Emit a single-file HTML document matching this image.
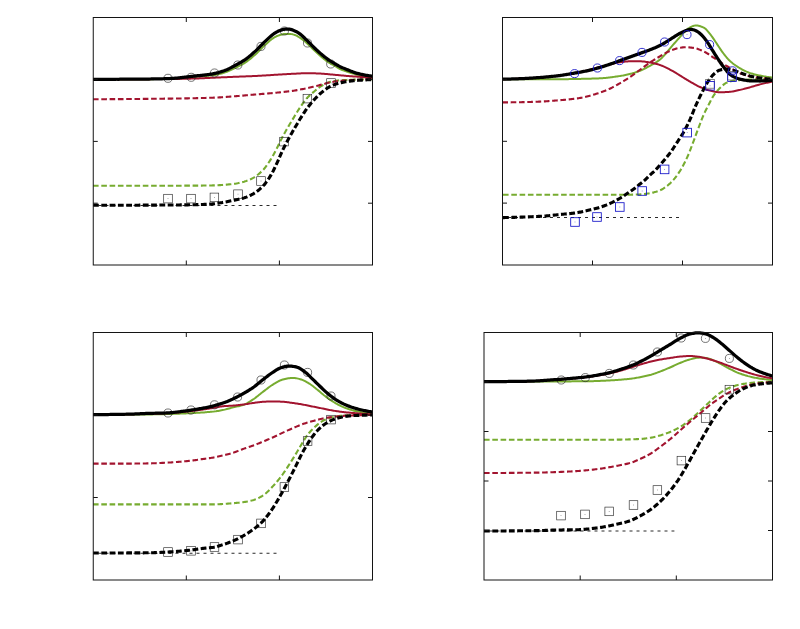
<!DOCTYPE html>
<html><head><meta charset="utf-8"><title>chart</title><style>html,body{margin:0;padding:0;background:#fff;font-family:"Liberation Sans",sans-serif}svg{display:block}</style></head><body>
<svg width="800" height="629" viewBox="0 0 800 629">
<rect width="800" height="629" fill="#fff"/>
<clipPath id="c1"><rect x="93.25" y="14.5" width="279.25" height="250.5"/></clipPath>
<g clip-path="url(#c1)" fill="none" stroke-linejoin="round">
<path d="M93.00,205.50 L277.00,205.50" stroke="#2a2a2a" stroke-width="1.0" stroke-dasharray="3 4" stroke-dashoffset="1.5"/>
<path d="M93.00,185.70 L94.08,185.70 L95.16,185.70 L96.24,185.70 L97.32,185.70 L98.40,185.70 L99.47,185.70 L100.55,185.70 L101.63,185.70 L102.71,185.70 L103.79,185.70 L104.87,185.70 L105.95,185.70 L107.03,185.70 L108.11,185.70 L109.19,185.70 L110.27,185.70 L111.35,185.70 L112.42,185.70 L113.50,185.70 L114.58,185.70 L115.66,185.70 L116.74,185.70 L117.82,185.70 L118.90,185.70 L119.98,185.70 L121.06,185.70 L122.14,185.70 L123.22,185.70 L124.30,185.70 L125.37,185.70 L126.45,185.70 L127.53,185.70 L128.61,185.70 L129.69,185.70 L130.77,185.70 L131.85,185.70 L132.93,185.70 L134.01,185.70 L135.09,185.70 L136.17,185.70 L137.25,185.70 L138.32,185.70 L139.40,185.70 L140.48,185.70 L141.56,185.70 L142.64,185.70 L143.72,185.70 L144.80,185.70 L145.88,185.70 L146.96,185.70 L148.04,185.70 L149.12,185.70 L150.19,185.70 L151.27,185.70 L152.35,185.70 L153.43,185.70 L154.51,185.70 L155.59,185.70 L156.67,185.70 L157.75,185.70 L158.83,185.70 L159.91,185.70 L160.99,185.70 L162.07,185.70 L163.14,185.70 L164.22,185.70 L165.30,185.70 L166.38,185.70 L167.46,185.70 L168.54,185.70 L169.62,185.70 L170.70,185.70 L171.78,185.70 L172.86,185.70 L173.94,185.70 L175.02,185.70 L176.09,185.70 L177.17,185.69 L178.25,185.69 L179.33,185.69 L180.41,185.69 L181.49,185.68 L182.57,185.68 L183.65,185.68 L184.73,185.67 L185.81,185.67 L186.89,185.67 L187.97,185.66 L189.04,185.66 L190.12,185.65 L191.20,185.65 L192.28,185.64 L193.36,185.64 L194.44,185.63 L195.52,185.63 L196.60,185.62 L197.68,185.61 L198.76,185.61 L199.84,185.60 L200.92,185.59 L201.99,185.59 L203.07,185.57 L204.15,185.56 L205.23,185.55 L206.31,185.53 L207.39,185.52 L208.47,185.50 L209.55,185.48 L210.63,185.45 L211.71,185.43 L212.79,185.41 L213.86,185.38 L214.94,185.34 L216.02,185.30 L217.10,185.26 L218.18,185.21 L219.26,185.15 L220.34,185.09 L221.42,185.02 L222.50,184.95 L223.58,184.87 L224.66,184.79 L225.74,184.70 L226.81,184.61 L227.89,184.51 L228.97,184.41 L230.05,184.31 L231.13,184.20 L232.21,184.09 L233.29,183.97 L234.37,183.83 L235.45,183.67 L236.53,183.48 L237.61,183.28 L238.69,183.05 L239.76,182.81 L240.84,182.55 L241.92,182.28 L243.00,182.00 L244.08,181.70 L245.16,181.36 L246.24,181.00 L247.32,180.60 L248.40,180.17 L249.48,179.71 L250.56,179.22 L251.64,178.70 L252.71,178.15 L253.79,177.56 L254.87,176.89 L255.95,176.17 L257.03,175.37 L258.11,174.52 L259.19,173.61 L260.27,172.65 L261.35,171.64 L262.43,170.58 L263.51,169.47 L264.58,168.23 L265.66,166.88 L266.74,165.42 L267.82,163.88 L268.90,162.27 L269.98,160.60 L271.06,158.91 L272.14,157.11 L273.22,155.20 L274.30,153.19 L275.38,151.13 L276.46,149.05 L277.53,146.96 L278.61,144.80 L279.69,142.60 L280.77,140.38 L281.85,138.21 L282.93,136.13 L284.01,134.15 L285.09,132.22 L286.17,130.34 L287.25,128.49 L288.33,126.65 L289.41,124.81 L290.48,122.98 L291.56,121.17 L292.64,119.37 L293.72,117.59 L294.80,115.82 L295.88,114.07 L296.96,112.30 L298.04,110.56 L299.12,108.84 L300.20,107.19 L301.28,105.60 L302.36,104.04 L303.43,102.51 L304.51,101.04 L305.59,99.64 L306.67,98.36 L307.75,97.21 L308.83,96.14 L309.91,95.15 L310.99,94.20 L312.07,93.28 L313.15,92.38 L314.23,91.46 L315.31,90.55 L316.38,89.64 L317.46,88.77 L318.54,87.93 L319.62,87.14 L320.70,86.41 L321.78,85.75 L322.86,85.14 L323.94,84.55 L325.02,83.97 L326.10,83.44 L327.18,82.94 L328.25,82.50 L329.33,82.13 L330.41,81.82 L331.49,81.57 L332.57,81.34 L333.65,81.13 L334.73,80.94 L335.81,80.77 L336.89,80.62 L337.97,80.50 L339.05,80.40 L340.13,80.31 L341.20,80.24 L342.28,80.17 L343.36,80.11 L344.44,80.06 L345.52,80.01 L346.60,79.96 L347.68,79.91 L348.76,79.87 L349.84,79.82 L350.92,79.78 L352.00,79.74 L353.08,79.71 L354.15,79.67 L355.23,79.64 L356.31,79.61 L357.39,79.58 L358.47,79.56 L359.55,79.53 L360.63,79.50 L361.71,79.48 L362.79,79.46 L363.87,79.43 L364.95,79.41 L366.03,79.39 L367.10,79.37 L368.18,79.35 L369.26,79.34 L370.34,79.32 L371.42,79.31 L372.50,79.30" stroke="#77ac30" stroke-width="2.1" stroke-dasharray="5.6 2.7"/>
<path d="M93.00,79.30 L94.08,79.30 L95.16,79.30 L96.24,79.30 L97.32,79.30 L98.40,79.30 L99.47,79.30 L100.55,79.30 L101.63,79.30 L102.71,79.30 L103.79,79.30 L104.87,79.30 L105.95,79.29 L107.03,79.29 L108.11,79.29 L109.19,79.29 L110.27,79.29 L111.35,79.29 L112.42,79.29 L113.50,79.28 L114.58,79.28 L115.66,79.28 L116.74,79.28 L117.82,79.28 L118.90,79.27 L119.98,79.27 L121.06,79.27 L122.14,79.27 L123.22,79.26 L124.30,79.26 L125.37,79.26 L126.45,79.26 L127.53,79.25 L128.61,79.25 L129.69,79.25 L130.77,79.24 L131.85,79.24 L132.93,79.23 L134.01,79.23 L135.09,79.23 L136.17,79.22 L137.25,79.22 L138.32,79.21 L139.40,79.21 L140.48,79.20 L141.56,79.20 L142.64,79.19 L143.72,79.19 L144.80,79.18 L145.88,79.18 L146.96,79.17 L148.04,79.16 L149.12,79.16 L150.19,79.15 L151.27,79.14 L152.35,79.14 L153.43,79.13 L154.51,79.12 L155.59,79.12 L156.67,79.11 L157.75,79.10 L158.83,79.09 L159.91,79.09 L160.99,79.08 L162.07,79.07 L163.14,79.06 L164.22,79.05 L165.30,79.04 L166.38,79.03 L167.46,79.02 L168.54,79.01 L169.62,79.00 L170.70,78.99 L171.78,78.96 L172.86,78.91 L173.94,78.84 L175.02,78.77 L176.09,78.68 L177.17,78.58 L178.25,78.48 L179.33,78.37 L180.41,78.26 L181.49,78.14 L182.57,78.03 L183.65,77.93 L184.73,77.82 L185.81,77.73 L186.89,77.62 L187.97,77.51 L189.04,77.40 L190.12,77.29 L191.20,77.17 L192.28,77.06 L193.36,76.95 L194.44,76.85 L195.52,76.75 L196.60,76.66 L197.68,76.58 L198.76,76.50 L199.84,76.41 L200.92,76.33 L201.99,76.25 L203.07,76.17 L204.15,76.08 L205.23,75.98 L206.31,75.88 L207.39,75.79 L208.47,75.69 L209.55,75.59 L210.63,75.48 L211.71,75.36 L212.79,75.23 L213.86,75.09 L214.94,74.93 L216.02,74.75 L217.10,74.54 L218.18,74.30 L219.26,74.05 L220.34,73.77 L221.42,73.48 L222.50,73.17 L223.58,72.84 L224.66,72.51 L225.74,72.16 L226.81,71.76 L227.89,71.33 L228.97,70.87 L230.05,70.38 L231.13,69.87 L232.21,69.36 L233.29,68.83 L234.37,68.30 L235.45,67.78 L236.53,67.27 L237.61,66.74 L238.69,66.21 L239.76,65.66 L240.84,65.10 L241.92,64.52 L243.00,63.91 L244.08,63.27 L245.16,62.60 L246.24,61.88 L247.32,61.12 L248.40,60.31 L249.48,59.47 L250.56,58.60 L251.64,57.70 L252.71,56.78 L253.79,55.85 L254.87,54.91 L255.95,53.94 L257.03,52.91 L258.11,51.84 L259.19,50.74 L260.27,49.63 L261.35,48.52 L262.43,47.43 L263.51,46.38 L264.58,45.37 L265.66,44.41 L266.74,43.44 L267.82,42.46 L268.90,41.50 L269.98,40.56 L271.06,39.66 L272.14,38.82 L273.22,38.06 L274.30,37.38 L275.38,36.81 L276.46,36.29 L277.53,35.83 L278.61,35.43 L279.69,35.08 L280.77,34.79 L281.85,34.49 L282.93,34.24 L284.01,34.06 L285.09,34.00 L286.17,34.00 L287.25,34.00 L288.33,34.00 L289.41,34.00 L290.48,34.01 L291.56,34.13 L292.64,34.35 L293.72,34.63 L294.80,34.94 L295.88,35.32 L296.96,35.87 L298.04,36.52 L299.12,37.23 L300.20,37.93 L301.28,38.65 L302.36,39.42 L303.43,40.24 L304.51,41.10 L305.59,42.00 L306.67,42.98 L307.75,44.02 L308.83,45.07 L309.91,46.11 L310.99,47.15 L312.07,48.19 L313.15,49.23 L314.23,50.27 L315.31,51.29 L316.38,52.30 L317.46,53.30 L318.54,54.30 L319.62,55.27 L320.70,56.22 L321.78,57.16 L322.86,58.08 L323.94,58.97 L325.02,59.81 L326.10,60.61 L327.18,61.36 L328.25,62.09 L329.33,62.79 L330.41,63.45 L331.49,64.07 L332.57,64.66 L333.65,65.24 L334.73,65.84 L335.81,66.49 L336.89,67.18 L337.97,67.86 L339.05,68.51 L340.13,69.06 L341.20,69.54 L342.28,69.99 L343.36,70.41 L344.44,70.80 L345.52,71.18 L346.60,71.54 L347.68,71.90 L348.76,72.25 L349.84,72.59 L350.92,72.94 L352.00,73.27 L353.08,73.58 L354.15,73.88 L355.23,74.16 L356.31,74.42 L357.39,74.65 L358.47,74.86 L359.55,75.06 L360.63,75.26 L361.71,75.44 L362.79,75.61 L363.87,75.77 L364.95,75.92 L366.03,76.07 L367.10,76.21 L368.18,76.34 L369.26,76.47 L370.34,76.59 L371.42,76.70 L372.50,76.80" stroke="#77ac30" stroke-width="2.0"/>
<path d="M93.00,99.20 L94.08,99.20 L95.16,99.20 L96.24,99.20 L97.32,99.20 L98.40,99.20 L99.47,99.19 L100.55,99.19 L101.63,99.19 L102.71,99.19 L103.79,99.18 L104.87,99.18 L105.95,99.18 L107.03,99.17 L108.11,99.17 L109.19,99.16 L110.27,99.16 L111.35,99.15 L112.42,99.15 L113.50,99.14 L114.58,99.14 L115.66,99.13 L116.74,99.12 L117.82,99.12 L118.90,99.11 L119.98,99.10 L121.06,99.10 L122.14,99.09 L123.22,99.08 L124.30,99.07 L125.37,99.06 L126.45,99.06 L127.53,99.05 L128.61,99.04 L129.69,99.03 L130.77,99.02 L131.85,99.01 L132.93,99.00 L134.01,98.99 L135.09,98.98 L136.17,98.97 L137.25,98.96 L138.32,98.95 L139.40,98.94 L140.48,98.93 L141.56,98.92 L142.64,98.91 L143.72,98.90 L144.80,98.89 L145.88,98.87 L146.96,98.86 L148.04,98.85 L149.12,98.84 L150.19,98.83 L151.27,98.82 L152.35,98.80 L153.43,98.79 L154.51,98.78 L155.59,98.77 L156.67,98.76 L157.75,98.74 L158.83,98.73 L159.91,98.72 L160.99,98.71 L162.07,98.69 L163.14,98.68 L164.22,98.67 L165.30,98.66 L166.38,98.64 L167.46,98.63 L168.54,98.62 L169.62,98.60 L170.70,98.59 L171.78,98.58 L172.86,98.57 L173.94,98.55 L175.02,98.54 L176.09,98.52 L177.17,98.51 L178.25,98.49 L179.33,98.48 L180.41,98.46 L181.49,98.44 L182.57,98.43 L183.65,98.41 L184.73,98.39 L185.81,98.37 L186.89,98.35 L187.97,98.34 L189.04,98.32 L190.12,98.29 L191.20,98.27 L192.28,98.25 L193.36,98.23 L194.44,98.21 L195.52,98.18 L196.60,98.16 L197.68,98.13 L198.76,98.11 L199.84,98.08 L200.92,98.06 L201.99,98.03 L203.07,98.00 L204.15,97.97 L205.23,97.94 L206.31,97.91 L207.39,97.88 L208.47,97.85 L209.55,97.81 L210.63,97.78 L211.71,97.74 L212.79,97.71 L213.86,97.67 L214.94,97.62 L216.02,97.57 L217.10,97.52 L218.18,97.46 L219.26,97.40 L220.34,97.33 L221.42,97.26 L222.50,97.18 L223.58,97.11 L224.66,97.03 L225.74,96.95 L226.81,96.87 L227.89,96.79 L228.97,96.70 L230.05,96.62 L231.13,96.54 L232.21,96.46 L233.29,96.38 L234.37,96.30 L235.45,96.21 L236.53,96.13 L237.61,96.04 L238.69,95.95 L239.76,95.86 L240.84,95.77 L241.92,95.67 L243.00,95.58 L244.08,95.48 L245.16,95.39 L246.24,95.29 L247.32,95.20 L248.40,95.10 L249.48,95.01 L250.56,94.91 L251.64,94.82 L252.71,94.72 L253.79,94.63 L254.87,94.54 L255.95,94.45 L257.03,94.36 L258.11,94.27 L259.19,94.18 L260.27,94.10 L261.35,94.01 L262.43,93.92 L263.51,93.83 L264.58,93.74 L265.66,93.65 L266.74,93.55 L267.82,93.46 L268.90,93.37 L269.98,93.27 L271.06,93.18 L272.14,93.08 L273.22,92.98 L274.30,92.88 L275.38,92.78 L276.46,92.67 L277.53,92.57 L278.61,92.46 L279.69,92.35 L280.77,92.24 L281.85,92.12 L282.93,92.01 L284.01,91.89 L285.09,91.77 L286.17,91.65 L287.25,91.53 L288.33,91.41 L289.41,91.28 L290.48,91.14 L291.56,91.00 L292.64,90.85 L293.72,90.69 L294.80,90.52 L295.88,90.34 L296.96,90.16 L298.04,89.96 L299.12,89.76 L300.20,89.55 L301.28,89.34 L302.36,89.13 L303.43,88.91 L304.51,88.69 L305.59,88.47 L306.67,88.24 L307.75,88.00 L308.83,87.76 L309.91,87.52 L310.99,87.27 L312.07,87.02 L313.15,86.77 L314.23,86.51 L315.31,86.24 L316.38,85.97 L317.46,85.69 L318.54,85.42 L319.62,85.14 L320.70,84.86 L321.78,84.58 L322.86,84.29 L323.94,83.99 L325.02,83.69 L326.10,83.38 L327.18,83.08 L328.25,82.80 L329.33,82.55 L330.41,82.32 L331.49,82.11 L332.57,81.92 L333.65,81.73 L334.73,81.56 L335.81,81.40 L336.89,81.25 L337.97,81.11 L339.05,81.00 L340.13,80.89 L341.20,80.79 L342.28,80.70 L343.36,80.62 L344.44,80.54 L345.52,80.46 L346.60,80.39 L347.68,80.32 L348.76,80.25 L349.84,80.18 L350.92,80.11 L352.00,80.04 L353.08,79.98 L354.15,79.92 L355.23,79.87 L356.31,79.82 L357.39,79.77 L358.47,79.73 L359.55,79.68 L360.63,79.64 L361.71,79.60 L362.79,79.56 L363.87,79.52 L364.95,79.49 L366.03,79.45 L367.10,79.42 L368.18,79.39 L369.26,79.36 L370.34,79.34 L371.42,79.32 L372.50,79.30" stroke="#a2142f" stroke-width="2.1" stroke-dasharray="5.6 2.7"/>
<path d="M93.00,79.30 L94.08,79.30 L95.16,79.30 L96.24,79.30 L97.32,79.30 L98.40,79.30 L99.47,79.30 L100.55,79.30 L101.63,79.30 L102.71,79.29 L103.79,79.29 L104.87,79.29 L105.95,79.29 L107.03,79.29 L108.11,79.29 L109.19,79.29 L110.27,79.28 L111.35,79.28 L112.42,79.28 L113.50,79.28 L114.58,79.27 L115.66,79.27 L116.74,79.27 L117.82,79.27 L118.90,79.26 L119.98,79.26 L121.06,79.26 L122.14,79.25 L123.22,79.25 L124.30,79.25 L125.37,79.24 L126.45,79.24 L127.53,79.24 L128.61,79.23 L129.69,79.23 L130.77,79.22 L131.85,79.22 L132.93,79.22 L134.01,79.21 L135.09,79.21 L136.17,79.20 L137.25,79.20 L138.32,79.19 L139.40,79.19 L140.48,79.18 L141.56,79.18 L142.64,79.17 L143.72,79.16 L144.80,79.16 L145.88,79.15 L146.96,79.15 L148.04,79.14 L149.12,79.14 L150.19,79.13 L151.27,79.12 L152.35,79.12 L153.43,79.11 L154.51,79.10 L155.59,79.10 L156.67,79.09 L157.75,79.08 L158.83,79.08 L159.91,79.07 L160.99,79.06 L162.07,79.06 L163.14,79.05 L164.22,79.04 L165.30,79.03 L166.38,79.03 L167.46,79.02 L168.54,79.01 L169.62,79.00 L170.70,78.99 L171.78,78.98 L172.86,78.97 L173.94,78.96 L175.02,78.95 L176.09,78.93 L177.17,78.91 L178.25,78.89 L179.33,78.88 L180.41,78.85 L181.49,78.83 L182.57,78.81 L183.65,78.79 L184.73,78.76 L185.81,78.74 L186.89,78.71 L187.97,78.68 L189.04,78.66 L190.12,78.63 L191.20,78.60 L192.28,78.57 L193.36,78.54 L194.44,78.52 L195.52,78.49 L196.60,78.45 L197.68,78.42 L198.76,78.38 L199.84,78.34 L200.92,78.30 L201.99,78.26 L203.07,78.22 L204.15,78.17 L205.23,78.12 L206.31,78.08 L207.39,78.03 L208.47,77.98 L209.55,77.93 L210.63,77.87 L211.71,77.82 L212.79,77.77 L213.86,77.72 L214.94,77.66 L216.02,77.61 L217.10,77.56 L218.18,77.51 L219.26,77.46 L220.34,77.41 L221.42,77.36 L222.50,77.31 L223.58,77.26 L224.66,77.21 L225.74,77.17 L226.81,77.13 L227.89,77.08 L228.97,77.04 L230.05,76.99 L231.13,76.95 L232.21,76.91 L233.29,76.86 L234.37,76.82 L235.45,76.78 L236.53,76.74 L237.61,76.69 L238.69,76.65 L239.76,76.61 L240.84,76.57 L241.92,76.52 L243.00,76.48 L244.08,76.44 L245.16,76.39 L246.24,76.35 L247.32,76.31 L248.40,76.27 L249.48,76.23 L250.56,76.19 L251.64,76.14 L252.71,76.10 L253.79,76.05 L254.87,76.01 L255.95,75.95 L257.03,75.90 L258.11,75.85 L259.19,75.79 L260.27,75.73 L261.35,75.67 L262.43,75.60 L263.51,75.54 L264.58,75.47 L265.66,75.40 L266.74,75.34 L267.82,75.27 L268.90,75.20 L269.98,75.13 L271.06,75.06 L272.14,74.99 L273.22,74.92 L274.30,74.85 L275.38,74.78 L276.46,74.71 L277.53,74.64 L278.61,74.57 L279.69,74.51 L280.77,74.44 L281.85,74.38 L282.93,74.31 L284.01,74.25 L285.09,74.20 L286.17,74.14 L287.25,74.08 L288.33,74.03 L289.41,73.97 L290.48,73.92 L291.56,73.87 L292.64,73.82 L293.72,73.76 L294.80,73.71 L295.88,73.65 L296.96,73.59 L298.04,73.52 L299.12,73.44 L300.20,73.38 L301.28,73.31 L302.36,73.26 L303.43,73.22 L304.51,73.20 L305.59,73.20 L306.67,73.21 L307.75,73.22 L308.83,73.23 L309.91,73.24 L310.99,73.26 L312.07,73.28 L313.15,73.30 L314.23,73.33 L315.31,73.36 L316.38,73.40 L317.46,73.45 L318.54,73.50 L319.62,73.56 L320.70,73.62 L321.78,73.69 L322.86,73.76 L323.94,73.83 L325.02,73.90 L326.10,73.98 L327.18,74.08 L328.25,74.18 L329.33,74.29 L330.41,74.39 L331.49,74.49 L332.57,74.59 L333.65,74.69 L334.73,74.79 L335.81,74.90 L336.89,75.00 L337.97,75.10 L339.05,75.20 L340.13,75.30 L341.20,75.40 L342.28,75.50 L343.36,75.60 L344.44,75.70 L345.52,75.79 L346.60,75.88 L347.68,75.97 L348.76,76.06 L349.84,76.15 L350.92,76.23 L352.00,76.31 L353.08,76.39 L354.15,76.47 L355.23,76.55 L356.31,76.62 L357.39,76.70 L358.47,76.78 L359.55,76.85 L360.63,76.93 L361.71,77.01 L362.79,77.09 L363.87,77.17 L364.95,77.26 L366.03,77.34 L367.10,77.43 L368.18,77.52 L369.26,77.62 L370.34,77.71 L371.42,77.80 L372.50,77.90" stroke="#a2142f" stroke-width="2.0"/>
</g>
<g fill="none" stroke="#2a2a2a" stroke-width="0.65">
<circle cx="168" cy="78.3" r="4.05"/>
<circle cx="191.2" cy="77.3" r="4.05"/>
<circle cx="214.5" cy="73" r="4.05"/>
<circle cx="237.8" cy="65" r="4.05"/>
<circle cx="261" cy="46.4" r="4.05"/>
<circle cx="284.4" cy="31" r="4.05"/>
<circle cx="307.5" cy="43" r="4.05"/>
<circle cx="330.7" cy="64" r="4.05"/>
<rect x="163.70" y="194.30" width="8.6" height="8.6"/>
<rect x="186.70" y="194.30" width="8.6" height="8.6"/>
<rect x="210.10" y="193.10" width="8.6" height="8.6"/>
<rect x="233.70" y="189.90" width="8.6" height="8.6"/>
<rect x="256.70" y="176.70" width="8.6" height="8.6"/>
<rect x="279.70" y="137.30" width="8.6" height="8.6"/>
<rect x="303.10" y="94.30" width="8.6" height="8.6"/>
<rect x="326.70" y="78.70" width="8.6" height="8.6"/>
</g>
<g fill="#2a2a2a" stroke="none" opacity="0.6">
<rect x="167.60" y="198.20" width="0.8" height="0.8"/>
<rect x="190.60" y="198.20" width="0.8" height="0.8"/>
<rect x="214.00" y="197.00" width="0.8" height="0.8"/>
<rect x="237.60" y="193.80" width="0.8" height="0.8"/>
<rect x="260.60" y="180.60" width="0.8" height="0.8"/>
<rect x="283.60" y="141.20" width="0.8" height="0.8"/>
<rect x="307.00" y="98.20" width="0.8" height="0.8"/>
<rect x="330.60" y="82.60" width="0.8" height="0.8"/>
<rect x="167.60" y="77.90" width="0.8" height="0.8"/>
<rect x="190.80" y="76.90" width="0.8" height="0.8"/>
<rect x="214.10" y="72.60" width="0.8" height="0.8"/>
<rect x="237.40" y="64.60" width="0.8" height="0.8"/>
<rect x="260.60" y="46.00" width="0.8" height="0.8"/>
<rect x="284.00" y="30.60" width="0.8" height="0.8"/>
<rect x="307.10" y="42.60" width="0.8" height="0.8"/>
<rect x="330.30" y="63.60" width="0.8" height="0.8"/>
</g>
<g clip-path="url(#c1)" fill="none" stroke-linejoin="round">
<path d="M93.00,205.30 L94.08,205.30 L95.16,205.30 L96.24,205.30 L97.32,205.30 L98.40,205.30 L99.47,205.30 L100.55,205.30 L101.63,205.29 L102.71,205.29 L103.79,205.29 L104.87,205.29 L105.95,205.29 L107.03,205.29 L108.11,205.28 L109.19,205.28 L110.27,205.28 L111.35,205.28 L112.42,205.27 L113.50,205.27 L114.58,205.27 L115.66,205.27 L116.74,205.26 L117.82,205.26 L118.90,205.26 L119.98,205.25 L121.06,205.25 L122.14,205.25 L123.22,205.24 L124.30,205.24 L125.37,205.23 L126.45,205.23 L127.53,205.23 L128.61,205.22 L129.69,205.22 L130.77,205.21 L131.85,205.21 L132.93,205.20 L134.01,205.20 L135.09,205.19 L136.17,205.19 L137.25,205.18 L138.32,205.18 L139.40,205.17 L140.48,205.17 L141.56,205.16 L142.64,205.16 L143.72,205.15 L144.80,205.15 L145.88,205.14 L146.96,205.13 L148.04,205.13 L149.12,205.12 L150.19,205.12 L151.27,205.11 L152.35,205.10 L153.43,205.10 L154.51,205.09 L155.59,205.09 L156.67,205.08 L157.75,205.07 L158.83,205.07 L159.91,205.06 L160.99,205.05 L162.07,205.05 L163.14,205.04 L164.22,205.04 L165.30,205.03 L166.38,205.02 L167.46,205.02 L168.54,205.01 L169.62,205.00 L170.70,205.00 L171.78,204.99 L172.86,204.98 L173.94,204.97 L175.02,204.97 L176.09,204.96 L177.17,204.95 L178.25,204.94 L179.33,204.93 L180.41,204.92 L181.49,204.91 L182.57,204.90 L183.65,204.89 L184.73,204.87 L185.81,204.86 L186.89,204.84 L187.97,204.83 L189.04,204.81 L190.12,204.80 L191.20,204.78 L192.28,204.76 L193.36,204.74 L194.44,204.71 L195.52,204.68 L196.60,204.65 L197.68,204.62 L198.76,204.59 L199.84,204.55 L200.92,204.51 L201.99,204.47 L203.07,204.43 L204.15,204.38 L205.23,204.33 L206.31,204.28 L207.39,204.23 L208.47,204.17 L209.55,204.10 L210.63,204.02 L211.71,203.92 L212.79,203.82 L213.86,203.71 L214.94,203.59 L216.02,203.45 L217.10,203.31 L218.18,203.16 L219.26,203.00 L220.34,202.83 L221.42,202.66 L222.50,202.48 L223.58,202.30 L224.66,202.11 L225.74,201.91 L226.81,201.70 L227.89,201.48 L228.97,201.25 L230.05,201.03 L231.13,200.80 L232.21,200.57 L233.29,200.34 L234.37,200.12 L235.45,199.91 L236.53,199.69 L237.61,199.48 L238.69,199.26 L239.76,199.02 L240.84,198.77 L241.92,198.50 L243.00,198.20 L244.08,197.87 L245.16,197.51 L246.24,197.13 L247.32,196.71 L248.40,196.26 L249.48,195.78 L250.56,195.27 L251.64,194.73 L252.71,194.16 L253.79,193.55 L254.87,192.87 L255.95,192.14 L257.03,191.35 L258.11,190.50 L259.19,189.60 L260.27,188.64 L261.35,187.63 L262.43,186.58 L263.51,185.47 L264.58,184.25 L265.66,182.92 L266.74,181.48 L267.82,179.95 L268.90,178.34 L269.98,176.65 L271.06,174.90 L272.14,173.01 L273.22,170.94 L274.30,168.74 L275.38,166.46 L276.46,164.16 L277.53,161.85 L278.61,159.43 L279.69,156.93 L280.77,154.42 L281.85,151.97 L282.93,149.64 L284.01,147.45 L285.09,145.32 L286.17,143.25 L287.25,141.23 L288.33,139.23 L289.41,137.26 L290.48,135.32 L291.56,133.42 L292.64,131.54 L293.72,129.69 L294.80,127.84 L295.88,126.00 L296.96,124.16 L298.04,122.34 L299.12,120.54 L300.20,118.78 L301.28,117.06 L302.36,115.37 L303.43,113.70 L304.51,112.07 L305.59,110.48 L306.67,108.95 L307.75,107.48 L308.83,106.06 L309.91,104.68 L310.99,103.34 L312.07,102.06 L313.15,100.84 L314.23,99.65 L315.31,98.49 L316.38,97.36 L317.46,96.26 L318.54,95.21 L319.62,94.20 L320.70,93.24 L321.78,92.33 L322.86,91.46 L323.94,90.61 L325.02,89.78 L326.10,88.98 L327.18,88.24 L328.25,87.54 L329.33,86.91 L330.41,86.34 L331.49,85.84 L332.57,85.36 L333.65,84.91 L334.73,84.50 L335.81,84.11 L336.89,83.76 L337.97,83.43 L339.05,83.14 L340.13,82.87 L341.20,82.62 L342.28,82.39 L343.36,82.18 L344.44,81.97 L345.52,81.79 L346.60,81.61 L347.68,81.45 L348.76,81.29 L349.84,81.14 L350.92,81.00 L352.00,80.87 L353.08,80.74 L354.15,80.63 L355.23,80.52 L356.31,80.43 L357.39,80.35 L358.47,80.28 L359.55,80.21 L360.63,80.15 L361.71,80.09 L362.79,80.03 L363.87,79.98 L364.95,79.93 L366.03,79.87 L367.10,79.82 L368.18,79.78 L369.26,79.73 L370.34,79.68 L371.42,79.64 L372.50,79.60" stroke="#000" stroke-width="3.1" stroke-dasharray="5.8 2.5"/>
<path d="M93.00,79.30 L94.08,79.30 L95.16,79.30 L96.24,79.30 L97.32,79.30 L98.40,79.30 L99.47,79.30 L100.55,79.29 L101.63,79.29 L102.71,79.29 L103.79,79.29 L104.87,79.29 L105.95,79.29 L107.03,79.28 L108.11,79.28 L109.19,79.28 L110.27,79.27 L111.35,79.27 L112.42,79.27 L113.50,79.26 L114.58,79.26 L115.66,79.26 L116.74,79.25 L117.82,79.25 L118.90,79.25 L119.98,79.24 L121.06,79.24 L122.14,79.23 L123.22,79.23 L124.30,79.22 L125.37,79.22 L126.45,79.22 L127.53,79.21 L128.61,79.21 L129.69,79.20 L130.77,79.20 L131.85,79.19 L132.93,79.18 L134.01,79.18 L135.09,79.17 L136.17,79.16 L137.25,79.15 L138.32,79.14 L139.40,79.13 L140.48,79.12 L141.56,79.11 L142.64,79.09 L143.72,79.08 L144.80,79.07 L145.88,79.06 L146.96,79.04 L148.04,79.03 L149.12,79.01 L150.19,79.00 L151.27,78.98 L152.35,78.97 L153.43,78.95 L154.51,78.93 L155.59,78.91 L156.67,78.89 L157.75,78.87 L158.83,78.85 L159.91,78.83 L160.99,78.80 L162.07,78.77 L163.14,78.75 L164.22,78.72 L165.30,78.69 L166.38,78.65 L167.46,78.62 L168.54,78.58 L169.62,78.53 L170.70,78.48 L171.78,78.42 L172.86,78.35 L173.94,78.27 L175.02,78.20 L176.09,78.12 L177.17,78.02 L178.25,77.92 L179.33,77.82 L180.41,77.70 L181.49,77.59 L182.57,77.47 L183.65,77.35 L184.73,77.23 L185.81,77.11 L186.89,76.98 L187.97,76.85 L189.04,76.72 L190.12,76.58 L191.20,76.45 L192.28,76.32 L193.36,76.19 L194.44,76.06 L195.52,75.94 L196.60,75.83 L197.68,75.73 L198.76,75.63 L199.84,75.53 L200.92,75.43 L201.99,75.33 L203.07,75.22 L204.15,75.10 L205.23,74.97 L206.31,74.83 L207.39,74.69 L208.47,74.54 L209.55,74.38 L210.63,74.21 L211.71,74.03 L212.79,73.83 L213.86,73.63 L214.94,73.41 L216.02,73.17 L217.10,72.90 L218.18,72.62 L219.26,72.31 L220.34,71.99 L221.42,71.65 L222.50,71.29 L223.58,70.91 L224.66,70.53 L225.74,70.12 L226.81,69.67 L227.89,69.18 L228.97,68.67 L230.05,68.13 L231.13,67.57 L232.21,66.99 L233.29,66.42 L234.37,65.84 L235.45,65.26 L236.53,64.69 L237.61,64.11 L238.69,63.52 L239.76,62.92 L240.84,62.30 L241.92,61.66 L243.00,61.00 L244.08,60.31 L245.16,59.59 L246.24,58.83 L247.32,58.02 L248.40,57.18 L249.48,56.31 L250.56,55.41 L251.64,54.48 L252.71,53.54 L253.79,52.58 L254.87,51.61 L255.95,50.62 L257.03,49.57 L258.11,48.48 L259.19,47.37 L260.27,46.24 L261.35,45.12 L262.43,44.01 L263.51,42.93 L264.58,41.89 L265.66,40.89 L266.74,39.88 L267.82,38.86 L268.90,37.86 L269.98,36.88 L271.06,35.94 L272.14,35.04 L273.22,34.21 L274.30,33.45 L275.38,32.77 L276.46,32.14 L277.53,31.56 L278.61,31.05 L279.69,30.61 L280.77,30.23 L281.85,29.85 L282.93,29.51 L284.01,29.28 L285.09,29.20 L286.17,29.20 L287.25,29.20 L288.33,29.20 L289.41,29.21 L290.48,29.36 L291.56,29.65 L292.64,30.03 L293.72,30.47 L294.80,30.92 L295.88,31.40 L296.96,31.98 L298.04,32.64 L299.12,33.37 L300.20,34.14 L301.28,35.01 L302.36,35.98 L303.43,37.00 L304.51,38.04 L305.59,39.06 L306.67,40.10 L307.75,41.16 L308.83,42.23 L309.91,43.31 L310.99,44.41 L312.07,45.53 L313.15,46.65 L314.23,47.74 L315.31,48.79 L316.38,49.80 L317.46,50.77 L318.54,51.73 L319.62,52.67 L320.70,53.61 L321.78,54.54 L322.86,55.46 L323.94,56.36 L325.02,57.21 L326.10,58.04 L327.18,58.84 L328.25,59.61 L329.33,60.36 L330.41,61.07 L331.49,61.74 L332.57,62.39 L333.65,63.02 L334.73,63.64 L335.81,64.27 L336.89,64.90 L337.97,65.52 L339.05,66.11 L340.13,66.66 L341.20,67.17 L342.28,67.66 L343.36,68.13 L344.44,68.58 L345.52,69.02 L346.60,69.45 L347.68,69.87 L348.76,70.30 L349.84,70.73 L350.92,71.16 L352.00,71.59 L353.08,72.00 L354.15,72.39 L355.23,72.75 L356.31,73.09 L357.39,73.39 L358.47,73.68 L359.55,73.95 L360.63,74.21 L361.71,74.45 L362.79,74.68 L363.87,74.90 L364.95,75.10 L366.03,75.29 L367.10,75.47 L368.18,75.64 L369.26,75.80 L370.34,75.94 L371.42,76.08 L372.50,76.20" stroke="#000" stroke-width="3.25"/>
</g>
<g fill="none" stroke="#141414" stroke-width="1">
<rect x="93.25" y="17.5" width="279.25" height="247.5"/>
<path d="M186.3,265 V260.5 M186.3,17.5 V22.0"/>
<path d="M279.4,265 V260.5 M279.4,17.5 V22.0"/>
<path d="M93.25,79.4 H97.75 M372.5,79.4 H368.0"/>
<path d="M93.25,141.4 H97.75 M372.5,141.4 H368.0"/>
<path d="M93.25,203.2 H97.75 M372.5,203.2 H368.0"/>
</g>
<clipPath id="c2"><rect x="502.5" y="14.5" width="270.0" height="250.5"/></clipPath>
<g clip-path="url(#c2)" fill="none" stroke-linejoin="round">
<path d="M502.50,217.50 L679.00,217.50" stroke="#2a2a2a" stroke-width="1.0" stroke-dasharray="3 4" stroke-dashoffset="1.5"/>
<path d="M503.00,194.80 L504.04,194.80 L505.08,194.80 L506.12,194.80 L507.16,194.80 L508.20,194.80 L509.24,194.80 L510.28,194.80 L511.32,194.80 L512.36,194.80 L513.41,194.80 L514.45,194.80 L515.49,194.80 L516.53,194.80 L517.57,194.80 L518.61,194.80 L519.65,194.80 L520.69,194.80 L521.73,194.80 L522.77,194.80 L523.81,194.80 L524.85,194.80 L525.89,194.80 L526.93,194.80 L527.97,194.80 L529.01,194.80 L530.05,194.80 L531.09,194.80 L532.14,194.80 L533.18,194.80 L534.22,194.80 L535.26,194.80 L536.30,194.80 L537.34,194.80 L538.38,194.80 L539.42,194.80 L540.46,194.80 L541.50,194.80 L542.54,194.80 L543.58,194.80 L544.62,194.80 L545.66,194.80 L546.70,194.80 L547.74,194.80 L548.78,194.80 L549.82,194.80 L550.86,194.80 L551.91,194.80 L552.95,194.80 L553.99,194.80 L555.03,194.80 L556.07,194.80 L557.11,194.80 L558.15,194.80 L559.19,194.80 L560.23,194.80 L561.27,194.80 L562.31,194.80 L563.35,194.80 L564.39,194.80 L565.43,194.80 L566.47,194.80 L567.51,194.80 L568.55,194.80 L569.59,194.80 L570.64,194.80 L571.68,194.80 L572.72,194.80 L573.76,194.80 L574.80,194.80 L575.84,194.80 L576.88,194.80 L577.92,194.80 L578.96,194.80 L580.00,194.80 L581.04,194.80 L582.08,194.80 L583.12,194.80 L584.16,194.80 L585.20,194.80 L586.24,194.80 L587.28,194.80 L588.32,194.80 L589.36,194.80 L590.41,194.80 L591.45,194.80 L592.49,194.80 L593.53,194.80 L594.57,194.80 L595.61,194.80 L596.65,194.80 L597.69,194.80 L598.73,194.80 L599.77,194.80 L600.81,194.80 L601.85,194.80 L602.89,194.80 L603.93,194.80 L604.97,194.80 L606.01,194.80 L607.05,194.79 L608.09,194.79 L609.14,194.79 L610.18,194.79 L611.22,194.79 L612.26,194.78 L613.30,194.78 L614.34,194.78 L615.38,194.77 L616.42,194.77 L617.46,194.77 L618.50,194.76 L619.54,194.76 L620.58,194.75 L621.62,194.75 L622.66,194.74 L623.70,194.74 L624.74,194.73 L625.78,194.73 L626.82,194.72 L627.86,194.71 L628.91,194.71 L629.95,194.70 L630.99,194.69 L632.03,194.67 L633.07,194.65 L634.11,194.63 L635.15,194.60 L636.19,194.56 L637.23,194.52 L638.27,194.48 L639.31,194.43 L640.35,194.38 L641.39,194.32 L642.43,194.23 L643.47,194.13 L644.51,194.01 L645.55,193.88 L646.59,193.74 L647.64,193.58 L648.68,193.42 L649.72,193.25 L650.76,193.06 L651.80,192.86 L652.84,192.62 L653.88,192.36 L654.92,192.07 L655.96,191.76 L657.00,191.42 L658.04,191.06 L659.08,190.67 L660.12,190.25 L661.16,189.78 L662.20,189.23 L663.24,188.62 L664.28,187.94 L665.32,187.21 L666.36,186.43 L667.41,185.61 L668.45,184.75 L669.49,183.85 L670.53,182.92 L671.57,181.91 L672.61,180.81 L673.65,179.64 L674.69,178.39 L675.73,177.06 L676.77,175.68 L677.81,174.23 L678.85,172.72 L679.89,171.16 L680.93,169.52 L681.97,167.75 L683.01,165.85 L684.05,163.85 L685.09,161.75 L686.14,159.57 L687.18,157.32 L688.22,155.01 L689.26,152.54 L690.30,149.90 L691.34,147.14 L692.38,144.34 L693.42,141.54 L694.46,138.79 L695.50,136.01 L696.54,133.20 L697.58,130.40 L698.62,127.61 L699.66,124.87 L700.70,122.18 L701.74,119.48 L702.78,116.86 L703.82,114.39 L704.86,112.14 L705.91,110.03 L706.95,108.02 L707.99,106.03 L709.03,104.00 L710.07,101.94 L711.11,99.92 L712.15,98.00 L713.19,96.23 L714.23,94.68 L715.27,93.27 L716.31,91.97 L717.35,90.76 L718.39,89.63 L719.43,88.56 L720.47,87.54 L721.51,86.52 L722.55,85.53 L723.59,84.62 L724.64,83.81 L725.68,83.16 L726.72,82.67 L727.76,82.24 L728.80,81.85 L729.84,81.52 L730.88,81.24 L731.92,81.02 L732.96,80.83 L734.00,80.66 L735.04,80.52 L736.08,80.39 L737.12,80.28 L738.16,80.19 L739.20,80.10 L740.24,80.02 L741.28,79.94 L742.32,79.87 L743.36,79.80 L744.41,79.73 L745.45,79.68 L746.49,79.62 L747.53,79.58 L748.57,79.54 L749.61,79.51 L750.65,79.49 L751.69,79.46 L752.73,79.44 L753.77,79.42 L754.81,79.40 L755.85,79.38 L756.89,79.36 L757.93,79.34 L758.97,79.32 L760.01,79.30 L761.05,79.29 L762.09,79.27 L763.14,79.26 L764.18,79.25 L765.22,79.24 L766.26,79.23 L767.30,79.22 L768.34,79.21 L769.38,79.21 L770.42,79.20 L771.46,79.20 L772.50,79.20" stroke="#77ac30" stroke-width="2.1" stroke-dasharray="5.6 2.7"/>
<path d="M502.40,79.20 L503.44,79.20 L504.49,79.20 L505.53,79.20 L506.57,79.20 L507.61,79.20 L508.66,79.20 L509.70,79.20 L510.74,79.20 L511.79,79.20 L512.83,79.20 L513.87,79.20 L514.91,79.20 L515.96,79.20 L517.00,79.20 L518.04,79.20 L519.09,79.20 L520.13,79.20 L521.17,79.20 L522.21,79.20 L523.26,79.20 L524.30,79.20 L525.34,79.20 L526.39,79.20 L527.43,79.20 L528.47,79.20 L529.51,79.20 L530.56,79.20 L531.60,79.20 L532.64,79.20 L533.69,79.20 L534.73,79.20 L535.77,79.20 L536.81,79.20 L537.86,79.20 L538.90,79.20 L539.94,79.20 L540.99,79.20 L542.03,79.20 L543.07,79.20 L544.11,79.20 L545.16,79.20 L546.20,79.20 L547.24,79.20 L548.29,79.20 L549.33,79.20 L550.37,79.20 L551.41,79.20 L552.46,79.20 L553.50,79.20 L554.54,79.20 L555.59,79.20 L556.63,79.20 L557.67,79.20 L558.71,79.20 L559.76,79.20 L560.80,79.20 L561.84,79.20 L562.89,79.19 L563.93,79.18 L564.97,79.17 L566.01,79.16 L567.06,79.15 L568.10,79.13 L569.14,79.11 L570.19,79.10 L571.23,79.08 L572.27,79.06 L573.31,79.04 L574.36,79.02 L575.40,78.99 L576.44,78.97 L577.49,78.95 L578.53,78.93 L579.57,78.91 L580.61,78.89 L581.66,78.87 L582.70,78.84 L583.74,78.82 L584.79,78.80 L585.83,78.78 L586.87,78.75 L587.91,78.72 L588.96,78.70 L590.00,78.67 L591.04,78.64 L592.09,78.61 L593.13,78.57 L594.17,78.54 L595.21,78.50 L596.26,78.46 L597.30,78.42 L598.34,78.38 L599.39,78.33 L600.43,78.28 L601.47,78.22 L602.51,78.15 L603.56,78.07 L604.60,77.98 L605.64,77.89 L606.69,77.78 L607.73,77.67 L608.77,77.55 L609.81,77.43 L610.86,77.30 L611.90,77.17 L612.94,77.03 L613.99,76.88 L615.03,76.73 L616.07,76.58 L617.11,76.43 L618.16,76.28 L619.20,76.12 L620.24,75.96 L621.29,75.80 L622.33,75.62 L623.37,75.43 L624.41,75.24 L625.46,75.03 L626.50,74.81 L627.54,74.58 L628.59,74.34 L629.63,74.09 L630.67,73.83 L631.71,73.56 L632.76,73.26 L633.80,72.95 L634.84,72.63 L635.89,72.29 L636.93,71.93 L637.97,71.56 L639.01,71.18 L640.06,70.78 L641.10,70.35 L642.14,69.89 L643.19,69.39 L644.23,68.87 L645.27,68.34 L646.31,67.78 L647.36,67.22 L648.40,66.66 L649.44,66.10 L650.49,65.54 L651.53,64.99 L652.57,64.42 L653.61,63.83 L654.66,63.21 L655.70,62.56 L656.74,61.89 L657.79,61.18 L658.83,60.42 L659.87,59.61 L660.91,58.71 L661.96,57.71 L663.00,56.65 L664.04,55.54 L665.09,54.41 L666.13,53.22 L667.17,51.96 L668.21,50.67 L669.26,49.39 L670.30,48.15 L671.34,46.92 L672.39,45.69 L673.43,44.47 L674.47,43.25 L675.51,42.04 L676.56,40.85 L677.60,39.66 L678.64,38.49 L679.69,37.34 L680.73,36.19 L681.77,34.97 L682.81,33.73 L683.86,32.51 L684.90,31.36 L685.94,30.31 L686.99,29.40 L688.03,28.68 L689.07,28.06 L690.11,27.45 L691.16,26.88 L692.20,26.37 L693.24,25.94 L694.29,25.62 L695.33,25.44 L696.37,25.41 L697.41,25.50 L698.46,25.69 L699.50,25.96 L700.54,26.31 L701.59,26.71 L702.63,27.16 L703.67,27.64 L704.71,28.22 L705.76,29.07 L706.80,30.14 L707.84,31.35 L708.89,32.64 L709.93,33.91 L710.97,35.22 L712.01,36.64 L713.06,38.14 L714.10,39.68 L715.14,41.24 L716.19,42.77 L717.23,44.34 L718.27,45.94 L719.31,47.55 L720.36,49.14 L721.40,50.66 L722.44,52.10 L723.49,53.51 L724.53,54.89 L725.57,56.22 L726.61,57.47 L727.66,58.64 L728.70,59.71 L729.74,60.72 L730.79,61.68 L731.83,62.58 L732.87,63.43 L733.91,64.24 L734.96,65.00 L736.00,65.74 L737.04,66.45 L738.09,67.12 L739.13,67.77 L740.17,68.39 L741.21,68.98 L742.26,69.54 L743.30,70.08 L744.34,70.60 L745.39,71.11 L746.43,71.59 L747.47,72.04 L748.51,72.46 L749.56,72.85 L750.60,73.20 L751.64,73.52 L752.69,73.83 L753.73,74.13 L754.77,74.41 L755.81,74.67 L756.86,74.92 L757.90,75.16 L758.94,75.38 L759.99,75.60 L761.03,75.80 L762.07,76.00 L763.11,76.20 L764.16,76.39 L765.20,76.57 L766.24,76.75 L767.29,76.91 L768.33,77.07 L769.37,77.22 L770.41,77.36 L771.46,77.48 L772.50,77.60" stroke="#77ac30" stroke-width="2.0"/>
<path d="M502.40,102.40 L503.44,102.40 L504.49,102.39 L505.53,102.39 L506.57,102.38 L507.61,102.37 L508.66,102.36 L509.70,102.35 L510.74,102.34 L511.79,102.32 L512.83,102.31 L513.87,102.29 L514.91,102.28 L515.96,102.26 L517.00,102.25 L518.04,102.23 L519.09,102.21 L520.13,102.20 L521.17,102.18 L522.21,102.16 L523.26,102.14 L524.30,102.12 L525.34,102.09 L526.39,102.07 L527.43,102.04 L528.47,102.01 L529.51,101.98 L530.56,101.95 L531.60,101.91 L532.64,101.88 L533.69,101.84 L534.73,101.81 L535.77,101.77 L536.81,101.73 L537.86,101.69 L538.90,101.65 L539.94,101.60 L540.99,101.56 L542.03,101.51 L543.07,101.45 L544.11,101.40 L545.16,101.33 L546.20,101.27 L547.24,101.20 L548.29,101.13 L549.33,101.06 L550.37,100.98 L551.41,100.90 L552.46,100.82 L553.50,100.74 L554.54,100.66 L555.59,100.57 L556.63,100.49 L557.67,100.40 L558.71,100.31 L559.76,100.22 L560.80,100.13 L561.84,100.04 L562.89,99.95 L563.93,99.86 L564.97,99.76 L566.01,99.67 L567.06,99.57 L568.10,99.47 L569.14,99.37 L570.19,99.26 L571.23,99.15 L572.27,99.03 L573.31,98.91 L574.36,98.78 L575.40,98.65 L576.44,98.52 L577.49,98.37 L578.53,98.22 L579.57,98.07 L580.61,97.90 L581.66,97.72 L582.70,97.52 L583.74,97.30 L584.79,97.07 L585.83,96.83 L586.87,96.57 L587.91,96.30 L588.96,96.02 L590.00,95.73 L591.04,95.43 L592.09,95.12 L593.13,94.81 L594.17,94.48 L595.21,94.16 L596.26,93.82 L597.30,93.49 L598.34,93.14 L599.39,92.80 L600.43,92.46 L601.47,92.10 L602.51,91.72 L603.56,91.33 L604.60,90.92 L605.64,90.50 L606.69,90.07 L607.73,89.62 L608.77,89.16 L609.81,88.69 L610.86,88.20 L611.90,87.69 L612.94,87.15 L613.99,86.60 L615.03,86.03 L616.07,85.45 L617.11,84.86 L618.16,84.26 L619.20,83.66 L620.24,83.06 L621.29,82.45 L622.33,81.83 L623.37,81.21 L624.41,80.57 L625.46,79.93 L626.50,79.27 L627.54,78.61 L628.59,77.93 L629.63,77.25 L630.67,76.55 L631.71,75.83 L632.76,75.10 L633.80,74.35 L634.84,73.59 L635.89,72.82 L636.93,72.05 L637.97,71.28 L639.01,70.52 L640.06,69.76 L641.10,68.99 L642.14,68.22 L643.19,67.44 L644.23,66.66 L645.27,65.88 L646.31,65.11 L647.36,64.35 L648.40,63.60 L649.44,62.88 L650.49,62.18 L651.53,61.49 L652.57,60.81 L653.61,60.15 L654.66,59.50 L655.70,58.85 L656.74,58.22 L657.79,57.60 L658.83,56.98 L659.87,56.37 L660.91,55.77 L661.96,55.15 L663.00,54.53 L664.04,53.92 L665.09,53.32 L666.13,52.74 L667.17,52.19 L668.21,51.68 L669.26,51.21 L670.30,50.78 L671.34,50.37 L672.39,49.97 L673.43,49.59 L674.47,49.22 L675.51,48.87 L676.56,48.56 L677.60,48.28 L678.64,48.04 L679.69,47.85 L680.73,47.69 L681.77,47.55 L682.81,47.41 L683.86,47.30 L684.90,47.23 L685.94,47.20 L686.99,47.22 L688.03,47.27 L689.07,47.35 L690.11,47.46 L691.16,47.59 L692.20,47.73 L693.24,47.88 L694.29,48.05 L695.33,48.26 L696.37,48.53 L697.41,48.85 L698.46,49.21 L699.50,49.62 L700.54,50.05 L701.59,50.50 L702.63,50.97 L703.67,51.45 L704.71,51.94 L705.76,52.50 L706.80,53.11 L707.84,53.76 L708.89,54.44 L709.93,55.15 L710.97,55.86 L712.01,56.58 L713.06,57.28 L714.10,57.96 L715.14,58.65 L716.19,59.35 L717.23,60.05 L718.27,60.77 L719.31,61.47 L720.36,62.18 L721.40,62.87 L722.44,63.54 L723.49,64.19 L724.53,64.81 L725.57,65.41 L726.61,65.99 L727.66,66.55 L728.70,67.11 L729.74,67.66 L730.79,68.23 L731.83,68.81 L732.87,69.41 L733.91,70.01 L734.96,70.61 L736.00,71.20 L737.04,71.77 L738.09,72.31 L739.13,72.82 L740.17,73.30 L741.21,73.72 L742.26,74.09 L743.30,74.43 L744.34,74.75 L745.39,75.06 L746.43,75.36 L747.47,75.64 L748.51,75.90 L749.56,76.15 L750.60,76.38 L751.64,76.59 L752.69,76.78 L753.73,76.96 L754.77,77.12 L755.81,77.28 L756.86,77.44 L757.90,77.59 L758.94,77.74 L759.99,77.89 L761.03,78.03 L762.07,78.16 L763.11,78.29 L764.16,78.41 L765.20,78.52 L766.24,78.63 L767.29,78.72 L768.33,78.80 L769.37,78.87 L770.41,78.93 L771.46,78.97 L772.50,79.00" stroke="#a2142f" stroke-width="2.1" stroke-dasharray="5.6 2.7"/>
<path d="M502.40,79.20 L503.44,79.18 L504.49,79.17 L505.53,79.15 L506.57,79.12 L507.61,79.10 L508.66,79.07 L509.70,79.05 L510.74,79.02 L511.79,78.99 L512.83,78.95 L513.87,78.92 L514.91,78.89 L515.96,78.85 L517.00,78.81 L518.04,78.77 L519.09,78.73 L520.13,78.70 L521.17,78.65 L522.21,78.61 L523.26,78.56 L524.30,78.51 L525.34,78.46 L526.39,78.40 L527.43,78.34 L528.47,78.28 L529.51,78.22 L530.56,78.16 L531.60,78.09 L532.64,78.02 L533.69,77.95 L534.73,77.88 L535.77,77.81 L536.81,77.73 L537.86,77.66 L538.90,77.58 L539.94,77.50 L540.99,77.42 L542.03,77.34 L543.07,77.26 L544.11,77.17 L545.16,77.08 L546.20,76.99 L547.24,76.89 L548.29,76.80 L549.33,76.69 L550.37,76.59 L551.41,76.48 L552.46,76.38 L553.50,76.26 L554.54,76.15 L555.59,76.03 L556.63,75.91 L557.67,75.79 L558.71,75.66 L559.76,75.53 L560.80,75.40 L561.84,75.25 L562.89,75.10 L563.93,74.95 L564.97,74.78 L566.01,74.61 L567.06,74.44 L568.10,74.26 L569.14,74.07 L570.19,73.89 L571.23,73.70 L572.27,73.51 L573.31,73.32 L574.36,73.14 L575.40,72.95 L576.44,72.75 L577.49,72.56 L578.53,72.36 L579.57,72.16 L580.61,71.95 L581.66,71.74 L582.70,71.52 L583.74,71.30 L584.79,71.07 L585.83,70.84 L586.87,70.60 L587.91,70.34 L588.96,70.08 L590.00,69.80 L591.04,69.52 L592.09,69.23 L593.13,68.94 L594.17,68.65 L595.21,68.36 L596.26,68.07 L597.30,67.79 L598.34,67.51 L599.39,67.23 L600.43,66.94 L601.47,66.66 L602.51,66.37 L603.56,66.08 L604.60,65.80 L605.64,65.52 L606.69,65.24 L607.73,64.97 L608.77,64.70 L609.81,64.44 L610.86,64.19 L611.90,63.93 L612.94,63.67 L613.99,63.41 L615.03,63.15 L616.07,62.91 L617.11,62.69 L618.16,62.49 L619.20,62.31 L620.24,62.17 L621.29,62.03 L622.33,61.90 L623.37,61.77 L624.41,61.65 L625.46,61.54 L626.50,61.45 L627.54,61.38 L628.59,61.33 L629.63,61.30 L630.67,61.30 L631.71,61.30 L632.76,61.30 L633.80,61.30 L634.84,61.30 L635.89,61.30 L636.93,61.30 L637.97,61.30 L639.01,61.30 L640.06,61.30 L641.10,61.32 L642.14,61.38 L643.19,61.48 L644.23,61.60 L645.27,61.74 L646.31,61.90 L647.36,62.06 L648.40,62.24 L649.44,62.41 L650.49,62.58 L651.53,62.78 L652.57,63.01 L653.61,63.26 L654.66,63.52 L655.70,63.77 L656.74,64.04 L657.79,64.33 L658.83,64.63 L659.87,64.96 L660.91,65.32 L661.96,65.71 L663.00,66.13 L664.04,66.57 L665.09,67.04 L666.13,67.54 L667.17,68.07 L668.21,68.63 L669.26,69.20 L670.30,69.76 L671.34,70.33 L672.39,70.91 L673.43,71.49 L674.47,72.09 L675.51,72.71 L676.56,73.34 L677.60,74.00 L678.64,74.65 L679.69,75.31 L680.73,75.95 L681.77,76.60 L682.81,77.25 L683.86,77.89 L684.90,78.54 L685.94,79.18 L686.99,79.82 L688.03,80.45 L689.07,81.06 L690.11,81.67 L691.16,82.27 L692.20,82.87 L693.24,83.48 L694.29,84.07 L695.33,84.66 L696.37,85.23 L697.41,85.77 L698.46,86.29 L699.50,86.78 L700.54,87.23 L701.59,87.68 L702.63,88.11 L703.67,88.54 L704.71,88.94 L705.76,89.33 L706.80,89.69 L707.84,90.02 L708.89,90.32 L709.93,90.58 L710.97,90.83 L712.01,91.08 L713.06,91.32 L714.10,91.55 L715.14,91.77 L716.19,91.95 L717.23,92.11 L718.27,92.22 L719.31,92.29 L720.36,92.30 L721.40,92.29 L722.44,92.26 L723.49,92.22 L724.53,92.17 L725.57,92.12 L726.61,92.05 L727.66,91.98 L728.70,91.90 L729.74,91.82 L730.79,91.73 L731.83,91.60 L732.87,91.43 L733.91,91.24 L734.96,91.03 L736.00,90.81 L737.04,90.57 L738.09,90.33 L739.13,90.09 L740.17,89.86 L741.21,89.62 L742.26,89.37 L743.30,89.11 L744.34,88.84 L745.39,88.57 L746.43,88.28 L747.47,88.00 L748.51,87.71 L749.56,87.42 L750.60,87.13 L751.64,86.83 L752.69,86.52 L753.73,86.21 L754.77,85.89 L755.81,85.58 L756.86,85.27 L757.90,84.97 L758.94,84.68 L759.99,84.40 L761.03,84.14 L762.07,83.88 L763.11,83.63 L764.16,83.38 L765.20,83.14 L766.24,82.90 L767.29,82.67 L768.33,82.44 L769.37,82.22 L770.41,82.01 L771.46,81.80 L772.50,81.60" stroke="#a2142f" stroke-width="2.0"/>
<path d="M503.00,217.60 L504.04,217.58 L505.08,217.57 L506.12,217.55 L507.16,217.52 L508.20,217.50 L509.24,217.48 L510.28,217.45 L511.32,217.43 L512.36,217.40 L513.41,217.37 L514.45,217.34 L515.49,217.31 L516.53,217.28 L517.57,217.25 L518.61,217.22 L519.65,217.18 L520.69,217.15 L521.73,217.11 L522.77,217.08 L523.81,217.04 L524.85,217.01 L525.89,216.97 L526.93,216.93 L527.97,216.89 L529.01,216.85 L530.05,216.81 L531.09,216.76 L532.14,216.71 L533.18,216.67 L534.22,216.62 L535.26,216.57 L536.30,216.51 L537.34,216.46 L538.38,216.40 L539.42,216.35 L540.46,216.29 L541.50,216.22 L542.54,216.16 L543.58,216.09 L544.62,216.03 L545.66,215.95 L546.70,215.87 L547.74,215.79 L548.78,215.69 L549.82,215.59 L550.86,215.49 L551.91,215.38 L552.95,215.27 L553.99,215.16 L555.03,215.04 L556.07,214.93 L557.11,214.81 L558.15,214.70 L559.19,214.59 L560.23,214.48 L561.27,214.37 L562.31,214.27 L563.35,214.18 L564.39,214.08 L565.43,213.99 L566.47,213.90 L567.51,213.80 L568.55,213.71 L569.59,213.61 L570.64,213.51 L571.68,213.40 L572.72,213.28 L573.76,213.16 L574.80,213.03 L575.84,212.88 L576.88,212.72 L577.92,212.54 L578.96,212.34 L580.00,212.14 L581.04,211.92 L582.08,211.70 L583.12,211.47 L584.16,211.24 L585.20,211.00 L586.24,210.77 L587.28,210.54 L588.32,210.30 L589.36,210.07 L590.41,209.83 L591.45,209.59 L592.49,209.34 L593.53,209.09 L594.57,208.83 L595.61,208.56 L596.65,208.28 L597.69,207.99 L598.73,207.68 L599.77,207.36 L600.81,207.03 L601.85,206.68 L602.89,206.31 L603.93,205.93 L604.97,205.53 L606.01,205.13 L607.05,204.70 L608.09,204.27 L609.14,203.83 L610.18,203.37 L611.22,202.90 L612.26,202.42 L613.30,201.91 L614.34,201.38 L615.38,200.83 L616.42,200.27 L617.46,199.69 L618.50,199.10 L619.54,198.49 L620.58,197.87 L621.62,197.24 L622.66,196.61 L623.70,195.96 L624.74,195.28 L625.78,194.57 L626.82,193.85 L627.86,193.11 L628.91,192.37 L629.95,191.64 L630.99,190.91 L632.03,190.17 L633.07,189.43 L634.11,188.67 L635.15,187.89 L636.19,187.08 L637.23,186.25 L638.27,185.40 L639.31,184.55 L640.35,183.72 L641.39,182.91 L642.43,182.11 L643.47,181.29 L644.51,180.42 L645.55,179.49 L646.59,178.47 L647.64,177.40 L648.68,176.32 L649.72,175.27 L650.76,174.30 L651.80,173.38 L652.84,172.48 L653.88,171.56 L654.92,170.58 L655.96,169.52 L657.00,168.40 L658.04,167.24 L659.08,166.05 L660.12,164.86 L661.16,163.67 L662.20,162.49 L663.24,161.29 L664.28,160.09 L665.32,158.86 L666.36,157.62 L667.41,156.34 L668.45,155.03 L669.49,153.68 L670.53,152.28 L671.57,150.82 L672.61,149.30 L673.65,147.74 L674.69,146.14 L675.73,144.53 L676.77,142.91 L677.81,141.29 L678.85,139.70 L679.89,138.12 L680.93,136.52 L681.97,134.89 L683.01,133.19 L684.05,131.40 L685.09,129.51 L686.14,127.53 L687.18,125.46 L688.22,123.32 L689.26,121.11 L690.30,118.84 L691.34,116.41 L692.38,113.85 L693.42,111.23 L694.46,108.64 L695.50,106.14 L696.54,103.80 L697.58,101.53 L698.62,99.32 L699.66,97.17 L700.70,95.06 L701.74,93.00 L702.78,90.96 L703.82,88.92 L704.86,86.91 L705.91,84.98 L706.95,83.17 L707.99,81.52 L709.03,79.99 L710.07,78.53 L711.11,77.15 L712.15,75.88 L713.19,74.76 L714.23,73.80 L715.27,72.91 L716.31,72.06 L717.35,71.30 L718.39,70.66 L719.43,70.18 L720.47,69.88 L721.51,69.62 L722.55,69.39 L723.59,69.20 L724.64,69.07 L725.68,69.00 L726.72,69.02 L727.76,69.12 L728.80,69.29 L729.84,69.51 L730.88,69.76 L731.92,70.04 L732.96,70.33 L734.00,70.60 L735.04,70.89 L736.08,71.22 L737.12,71.59 L738.16,71.98 L739.20,72.38 L740.24,72.77 L741.28,73.15 L742.32,73.51 L743.36,73.87 L744.41,74.23 L745.45,74.60 L746.49,74.95 L747.53,75.29 L748.57,75.61 L749.61,75.90 L750.65,76.16 L751.69,76.41 L752.73,76.65 L753.77,76.88 L754.81,77.09 L755.85,77.30 L756.89,77.49 L757.93,77.67 L758.97,77.84 L760.01,78.00 L761.05,78.15 L762.09,78.30 L763.14,78.44 L764.18,78.57 L765.22,78.70 L766.26,78.83 L767.30,78.95 L768.34,79.05 L769.38,79.16 L770.42,79.25 L771.46,79.33 L772.50,79.40" stroke="#000" stroke-width="3.1" stroke-dasharray="5.8 2.5"/>
<path d="M502.40,79.20 L503.44,79.18 L504.49,79.17 L505.53,79.15 L506.57,79.12 L507.61,79.10 L508.66,79.07 L509.70,79.05 L510.74,79.02 L511.79,78.99 L512.83,78.95 L513.87,78.92 L514.91,78.89 L515.96,78.85 L517.00,78.81 L518.04,78.77 L519.09,78.73 L520.13,78.70 L521.17,78.65 L522.21,78.61 L523.26,78.56 L524.30,78.51 L525.34,78.46 L526.39,78.40 L527.43,78.34 L528.47,78.28 L529.51,78.22 L530.56,78.16 L531.60,78.09 L532.64,78.02 L533.69,77.95 L534.73,77.88 L535.77,77.81 L536.81,77.73 L537.86,77.66 L538.90,77.58 L539.94,77.50 L540.99,77.42 L542.03,77.34 L543.07,77.26 L544.11,77.17 L545.16,77.08 L546.20,76.99 L547.24,76.89 L548.29,76.80 L549.33,76.69 L550.37,76.59 L551.41,76.48 L552.46,76.38 L553.50,76.26 L554.54,76.15 L555.59,76.03 L556.63,75.91 L557.67,75.79 L558.71,75.66 L559.76,75.53 L560.80,75.40 L561.84,75.25 L562.89,75.10 L563.93,74.94 L564.97,74.77 L566.01,74.60 L567.06,74.42 L568.10,74.24 L569.14,74.06 L570.19,73.87 L571.23,73.69 L572.27,73.50 L573.31,73.32 L574.36,73.14 L575.40,72.96 L576.44,72.78 L577.49,72.60 L578.53,72.42 L579.57,72.23 L580.61,72.05 L581.66,71.86 L582.70,71.66 L583.74,71.46 L584.79,71.25 L585.83,71.04 L586.87,70.81 L587.91,70.58 L588.96,70.34 L590.00,70.09 L591.04,69.84 L592.09,69.58 L593.13,69.31 L594.17,69.04 L595.21,68.76 L596.26,68.48 L597.30,68.19 L598.34,67.90 L599.39,67.60 L600.43,67.30 L601.47,66.98 L602.51,66.66 L603.56,66.33 L604.60,65.99 L605.64,65.65 L606.69,65.31 L607.73,64.96 L608.77,64.61 L609.81,64.26 L610.86,63.91 L611.90,63.54 L612.94,63.17 L613.99,62.80 L615.03,62.42 L616.07,62.04 L617.11,61.65 L618.16,61.27 L619.20,60.89 L620.24,60.51 L621.29,60.14 L622.33,59.76 L623.37,59.39 L624.41,59.01 L625.46,58.64 L626.50,58.26 L627.54,57.88 L628.59,57.51 L629.63,57.13 L630.67,56.76 L631.71,56.38 L632.76,56.01 L633.80,55.63 L634.84,55.26 L635.89,54.88 L636.93,54.51 L637.97,54.13 L639.01,53.75 L640.06,53.38 L641.10,53.01 L642.14,52.64 L643.19,52.28 L644.23,51.91 L645.27,51.54 L646.31,51.17 L647.36,50.80 L648.40,50.41 L649.44,50.02 L650.49,49.61 L651.53,49.20 L652.57,48.78 L653.61,48.36 L654.66,47.93 L655.70,47.49 L656.74,47.03 L657.79,46.56 L658.83,46.07 L659.87,45.56 L660.91,45.03 L661.96,44.45 L663.00,43.85 L664.04,43.23 L665.09,42.58 L666.13,41.93 L667.17,41.27 L668.21,40.61 L669.26,39.96 L670.30,39.32 L671.34,38.66 L672.39,37.99 L673.43,37.31 L674.47,36.62 L675.51,35.94 L676.56,35.28 L677.60,34.64 L678.64,34.03 L679.69,33.46 L680.73,32.93 L681.77,32.39 L682.81,31.87 L683.86,31.37 L684.90,30.92 L685.94,30.52 L686.99,30.20 L688.03,29.92 L689.07,29.65 L690.11,29.46 L691.16,29.40 L692.20,29.51 L693.24,29.75 L694.29,30.07 L695.33,30.42 L696.37,30.91 L697.41,31.54 L698.46,32.29 L699.50,33.10 L700.54,33.96 L701.59,34.95 L702.63,36.06 L703.67,37.27 L704.71,38.55 L705.76,39.89 L706.80,41.29 L707.84,42.83 L708.89,44.47 L709.93,46.16 L710.97,47.86 L712.01,49.52 L713.06,51.18 L714.10,52.85 L715.14,54.53 L716.19,56.20 L717.23,57.83 L718.27,59.41 L719.31,60.96 L720.36,62.49 L721.40,63.99 L722.44,65.44 L723.49,66.84 L724.53,68.18 L725.57,69.53 L726.61,70.86 L727.66,72.11 L728.70,73.24 L729.74,74.20 L730.79,74.98 L731.83,75.67 L732.87,76.30 L733.91,76.86 L734.96,77.36 L736.00,77.80 L737.04,78.19 L738.09,78.55 L739.13,78.88 L740.17,79.17 L741.21,79.43 L742.26,79.65 L743.30,79.86 L744.34,80.07 L745.39,80.26 L746.43,80.44 L747.47,80.58 L748.51,80.70 L749.56,80.78 L750.60,80.82 L751.64,80.86 L752.69,80.89 L753.73,80.92 L754.77,80.94 L755.81,80.96 L756.86,80.98 L757.90,80.99 L758.94,81.00 L759.99,81.00 L761.03,80.99 L762.07,80.97 L763.11,80.94 L764.16,80.90 L765.20,80.84 L766.24,80.77 L767.29,80.70 L768.33,80.61 L769.37,80.52 L770.41,80.42 L771.46,80.31 L772.50,80.20" stroke="#000" stroke-width="3.25"/>
</g>
<g fill="none" stroke="#555" stroke-width="0.7">
<rect x="705.70" y="79.60" width="8.6" height="8.6"/>
<rect x="727.70" y="71.40" width="8.6" height="8.6"/>
</g>
<g fill="none" stroke="#1212c8" stroke-width="0.85">
<circle cx="574.6" cy="73.6" r="4.05"/>
<circle cx="597.4" cy="68" r="4.05"/>
<circle cx="619.6" cy="60.6" r="4.05"/>
<circle cx="642" cy="52.4" r="4.05"/>
<circle cx="664.6" cy="42" r="4.05"/>
<circle cx="687" cy="34.6" r="4.05"/>
<circle cx="709.6" cy="44.6" r="4.05"/>
<circle cx="732.4" cy="70.8" r="4.05"/>
<rect x="570.70" y="217.70" width="8.6" height="8.6"/>
<rect x="592.70" y="212.70" width="8.6" height="8.6"/>
<rect x="615.50" y="202.70" width="8.6" height="8.6"/>
<rect x="637.90" y="186.70" width="8.6" height="8.6"/>
<rect x="660.30" y="165.10" width="8.6" height="8.6"/>
<rect x="682.90" y="128.30" width="8.6" height="8.6"/>
<rect x="705.70" y="81.50" width="8.6" height="8.6"/>
<rect x="727.70" y="72.90" width="8.6" height="8.6"/>
</g>
<g fill="#1212c8" stroke="none" opacity="0.6">
<rect x="574.60" y="221.60" width="0.8" height="0.8"/>
<rect x="596.60" y="216.60" width="0.8" height="0.8"/>
<rect x="619.40" y="206.60" width="0.8" height="0.8"/>
<rect x="641.80" y="190.60" width="0.8" height="0.8"/>
<rect x="664.20" y="169.00" width="0.8" height="0.8"/>
<rect x="686.80" y="132.20" width="0.8" height="0.8"/>
<rect x="709.60" y="85.40" width="0.8" height="0.8"/>
<rect x="731.60" y="76.80" width="0.8" height="0.8"/>
<rect x="574.20" y="73.20" width="0.8" height="0.8"/>
<rect x="597.00" y="67.60" width="0.8" height="0.8"/>
<rect x="619.20" y="60.20" width="0.8" height="0.8"/>
<rect x="641.60" y="52.00" width="0.8" height="0.8"/>
<rect x="664.20" y="41.60" width="0.8" height="0.8"/>
<rect x="686.60" y="34.20" width="0.8" height="0.8"/>
<rect x="709.20" y="44.20" width="0.8" height="0.8"/>
<rect x="732.00" y="70.40" width="0.8" height="0.8"/>
</g>
<g fill="none" stroke="#141414" stroke-width="1">
<rect x="502.5" y="17.5" width="270.0" height="247.5"/>
<path d="M592.5,265 V260.5 M592.5,17.5 V22.0"/>
<path d="M682.5,265 V260.5 M682.5,17.5 V22.0"/>
<path d="M502.5,79.4 H507.0 M772.5,79.4 H768.0"/>
<path d="M502.5,141.3 H507.0 M772.5,141.3 H768.0"/>
<path d="M502.5,203.1 H507.0 M772.5,203.1 H768.0"/>
</g>
<clipPath id="c3"><rect x="93.25" y="329.5" width="279.25" height="250.5"/></clipPath>
<g clip-path="url(#c3)" fill="none" stroke-linejoin="round">
<path d="M93.00,553.25 L277.00,553.25" stroke="#2a2a2a" stroke-width="1.0" stroke-dasharray="3 4" stroke-dashoffset="1.5"/>
<path d="M93.00,504.40 L94.08,504.40 L95.16,504.40 L96.24,504.40 L97.32,504.40 L98.40,504.40 L99.47,504.40 L100.55,504.40 L101.63,504.40 L102.71,504.40 L103.79,504.40 L104.87,504.40 L105.95,504.40 L107.03,504.40 L108.11,504.40 L109.19,504.40 L110.27,504.40 L111.35,504.40 L112.42,504.40 L113.50,504.40 L114.58,504.40 L115.66,504.40 L116.74,504.40 L117.82,504.40 L118.90,504.40 L119.98,504.40 L121.06,504.40 L122.14,504.40 L123.22,504.40 L124.30,504.40 L125.37,504.40 L126.45,504.40 L127.53,504.40 L128.61,504.40 L129.69,504.40 L130.77,504.40 L131.85,504.40 L132.93,504.40 L134.01,504.40 L135.09,504.40 L136.17,504.40 L137.25,504.40 L138.32,504.40 L139.40,504.40 L140.48,504.40 L141.56,504.40 L142.64,504.40 L143.72,504.40 L144.80,504.40 L145.88,504.40 L146.96,504.40 L148.04,504.40 L149.12,504.40 L150.19,504.40 L151.27,504.40 L152.35,504.40 L153.43,504.40 L154.51,504.40 L155.59,504.40 L156.67,504.40 L157.75,504.40 L158.83,504.40 L159.91,504.40 L160.99,504.40 L162.07,504.40 L163.14,504.40 L164.22,504.40 L165.30,504.40 L166.38,504.40 L167.46,504.40 L168.54,504.40 L169.62,504.40 L170.70,504.40 L171.78,504.40 L172.86,504.40 L173.94,504.40 L175.02,504.40 L176.09,504.40 L177.17,504.40 L178.25,504.40 L179.33,504.40 L180.41,504.40 L181.49,504.40 L182.57,504.40 L183.65,504.40 L184.73,504.40 L185.81,504.40 L186.89,504.40 L187.97,504.40 L189.04,504.40 L190.12,504.40 L191.20,504.40 L192.28,504.40 L193.36,504.40 L194.44,504.40 L195.52,504.40 L196.60,504.40 L197.68,504.40 L198.76,504.40 L199.84,504.40 L200.92,504.40 L201.99,504.40 L203.07,504.40 L204.15,504.40 L205.23,504.40 L206.31,504.40 L207.39,504.40 L208.47,504.40 L209.55,504.40 L210.63,504.40 L211.71,504.40 L212.79,504.40 L213.86,504.40 L214.94,504.38 L216.02,504.35 L217.10,504.31 L218.18,504.26 L219.26,504.20 L220.34,504.15 L221.42,504.09 L222.50,504.03 L223.58,503.97 L224.66,503.90 L225.74,503.82 L226.81,503.74 L227.89,503.65 L228.97,503.56 L230.05,503.47 L231.13,503.37 L232.21,503.27 L233.29,503.17 L234.37,503.08 L235.45,502.99 L236.53,502.89 L237.61,502.79 L238.69,502.69 L239.76,502.58 L240.84,502.46 L241.92,502.34 L243.00,502.20 L244.08,502.05 L245.16,501.89 L246.24,501.71 L247.32,501.51 L248.40,501.30 L249.48,501.08 L250.56,500.83 L251.64,500.57 L252.71,500.28 L253.79,499.96 L254.87,499.60 L255.95,499.19 L257.03,498.73 L258.11,498.23 L259.19,497.69 L260.27,497.11 L261.35,496.50 L262.43,495.86 L263.51,495.17 L264.58,494.39 L265.66,493.52 L266.74,492.56 L267.82,491.54 L268.90,490.46 L269.98,489.34 L271.06,488.19 L272.14,487.02 L273.22,485.85 L274.30,484.68 L275.38,483.48 L276.46,482.24 L277.53,480.96 L278.61,479.64 L279.69,478.29 L280.77,476.89 L281.85,475.47 L282.93,474.00 L284.01,472.47 L285.09,470.89 L286.17,469.26 L287.25,467.61 L288.33,465.93 L289.41,464.24 L290.48,462.56 L291.56,460.85 L292.64,459.13 L293.72,457.38 L294.80,455.62 L295.88,453.85 L296.96,452.06 L298.04,450.27 L299.12,448.45 L300.20,446.58 L301.28,444.71 L302.36,442.88 L303.43,441.13 L304.51,439.40 L305.59,437.70 L306.67,436.08 L307.75,434.58 L308.83,433.22 L309.91,431.96 L310.99,430.77 L312.07,429.64 L313.15,428.58 L314.23,427.56 L315.31,426.57 L316.38,425.60 L317.46,424.65 L318.54,423.74 L319.62,422.88 L320.70,422.10 L321.78,421.41 L322.86,420.81 L323.94,420.27 L325.02,419.77 L326.10,419.31 L327.18,418.88 L328.25,418.50 L329.33,418.14 L330.41,417.82 L331.49,417.53 L332.57,417.26 L333.65,417.01 L334.73,416.78 L335.81,416.57 L336.89,416.38 L337.97,416.20 L339.05,416.04 L340.13,415.88 L341.20,415.74 L342.28,415.60 L343.36,415.50 L344.44,415.42 L345.52,415.38 L346.60,415.35 L347.68,415.32 L348.76,415.29 L349.84,415.27 L350.92,415.24 L352.00,415.22 L353.08,415.19 L354.15,415.17 L355.23,415.15 L356.31,415.13 L357.39,415.12 L358.47,415.10 L359.55,415.08 L360.63,415.07 L361.71,415.06 L362.79,415.05 L363.87,415.04 L364.95,415.03 L366.03,415.02 L367.10,415.01 L368.18,415.01 L369.26,415.01 L370.34,415.00 L371.42,415.00 L372.50,415.00" stroke="#77ac30" stroke-width="2.1" stroke-dasharray="5.6 2.7"/>
<path d="M93.00,414.60 L94.08,414.60 L95.16,414.60 L96.24,414.60 L97.32,414.60 L98.40,414.60 L99.47,414.60 L100.55,414.60 L101.63,414.59 L102.71,414.59 L103.79,414.59 L104.87,414.59 L105.95,414.59 L107.03,414.59 L108.11,414.58 L109.19,414.58 L110.27,414.58 L111.35,414.58 L112.42,414.57 L113.50,414.57 L114.58,414.57 L115.66,414.57 L116.74,414.56 L117.82,414.56 L118.90,414.56 L119.98,414.55 L121.06,414.55 L122.14,414.54 L123.22,414.54 L124.30,414.54 L125.37,414.53 L126.45,414.53 L127.53,414.52 L128.61,414.52 L129.69,414.51 L130.77,414.51 L131.85,414.50 L132.93,414.50 L134.01,414.49 L135.09,414.49 L136.17,414.48 L137.25,414.48 L138.32,414.47 L139.40,414.46 L140.48,414.46 L141.56,414.45 L142.64,414.45 L143.72,414.44 L144.80,414.43 L145.88,414.43 L146.96,414.42 L148.04,414.41 L149.12,414.41 L150.19,414.40 L151.27,414.39 L152.35,414.38 L153.43,414.37 L154.51,414.35 L155.59,414.34 L156.67,414.32 L157.75,414.30 L158.83,414.28 L159.91,414.26 L160.99,414.24 L162.07,414.21 L163.14,414.18 L164.22,414.16 L165.30,414.13 L166.38,414.10 L167.46,414.06 L168.54,414.03 L169.62,414.00 L170.70,413.96 L171.78,413.93 L172.86,413.89 L173.94,413.85 L175.02,413.81 L176.09,413.77 L177.17,413.73 L178.25,413.69 L179.33,413.65 L180.41,413.60 L181.49,413.56 L182.57,413.52 L183.65,413.47 L184.73,413.43 L185.81,413.38 L186.89,413.33 L187.97,413.29 L189.04,413.24 L190.12,413.19 L191.20,413.15 L192.28,413.10 L193.36,413.04 L194.44,412.99 L195.52,412.93 L196.60,412.87 L197.68,412.81 L198.76,412.75 L199.84,412.68 L200.92,412.61 L201.99,412.54 L203.07,412.46 L204.15,412.38 L205.23,412.30 L206.31,412.21 L207.39,412.12 L208.47,412.03 L209.55,411.93 L210.63,411.83 L211.71,411.73 L212.79,411.62 L213.86,411.51 L214.94,411.37 L216.02,411.23 L217.10,411.06 L218.18,410.89 L219.26,410.70 L220.34,410.51 L221.42,410.31 L222.50,410.10 L223.58,409.88 L224.66,409.64 L225.74,409.37 L226.81,409.09 L227.89,408.79 L228.97,408.49 L230.05,408.19 L231.13,407.89 L232.21,407.60 L233.29,407.33 L234.37,407.08 L235.45,406.84 L236.53,406.62 L237.61,406.39 L238.69,406.16 L239.76,405.91 L240.84,405.64 L241.92,405.34 L243.00,405.00 L244.08,404.60 L245.16,404.13 L246.24,403.60 L247.32,403.02 L248.40,402.40 L249.48,401.75 L250.56,401.07 L251.64,400.38 L252.71,399.68 L253.79,398.97 L254.87,398.21 L255.95,397.40 L257.03,396.56 L258.11,395.70 L259.19,394.82 L260.27,393.94 L261.35,393.08 L262.43,392.24 L263.51,391.42 L264.58,390.59 L265.66,389.76 L266.74,388.92 L267.82,388.09 L268.90,387.28 L269.98,386.49 L271.06,385.74 L272.14,385.03 L273.22,384.37 L274.30,383.72 L275.38,383.07 L276.46,382.43 L277.53,381.82 L278.61,381.24 L279.69,380.70 L280.77,380.23 L281.85,379.83 L282.93,379.52 L284.01,379.26 L285.09,379.00 L286.17,378.76 L287.25,378.54 L288.33,378.34 L289.41,378.17 L290.48,378.04 L291.56,377.95 L292.64,377.90 L293.72,377.92 L294.80,378.01 L295.88,378.16 L296.96,378.37 L298.04,378.62 L299.12,378.89 L300.20,379.18 L301.28,379.48 L302.36,379.85 L303.43,380.30 L304.51,380.82 L305.59,381.39 L306.67,382.01 L307.75,382.65 L308.83,383.30 L309.91,383.97 L310.99,384.71 L312.07,385.50 L313.15,386.33 L314.23,387.18 L315.31,388.05 L316.38,388.91 L317.46,389.77 L318.54,390.65 L319.62,391.56 L320.70,392.47 L321.78,393.39 L322.86,394.29 L323.94,395.17 L325.02,396.01 L326.10,396.83 L327.18,397.63 L328.25,398.41 L329.33,399.18 L330.41,399.93 L331.49,400.64 L332.57,401.33 L333.65,402.00 L334.73,402.65 L335.81,403.29 L336.89,403.92 L337.97,404.53 L339.05,405.11 L340.13,405.67 L341.20,406.20 L342.28,406.69 L343.36,407.15 L344.44,407.59 L345.52,408.01 L346.60,408.41 L347.68,408.80 L348.76,409.16 L349.84,409.51 L350.92,409.83 L352.00,410.14 L353.08,410.42 L354.15,410.68 L355.23,410.92 L356.31,411.15 L357.39,411.37 L358.47,411.58 L359.55,411.78 L360.63,411.97 L361.71,412.17 L362.79,412.36 L363.87,412.56 L364.95,412.75 L366.03,412.94 L367.10,413.13 L368.18,413.31 L369.26,413.49 L370.34,413.66 L371.42,413.83 L372.50,414.00" stroke="#77ac30" stroke-width="2.0"/>
<path d="M93.00,463.60 L94.08,463.60 L95.16,463.60 L96.24,463.60 L97.32,463.60 L98.40,463.60 L99.47,463.60 L100.55,463.60 L101.63,463.60 L102.71,463.60 L103.79,463.60 L104.87,463.60 L105.95,463.60 L107.03,463.60 L108.11,463.60 L109.19,463.60 L110.27,463.60 L111.35,463.60 L112.42,463.60 L113.50,463.60 L114.58,463.60 L115.66,463.60 L116.74,463.60 L117.82,463.60 L118.90,463.60 L119.98,463.60 L121.06,463.60 L122.14,463.60 L123.22,463.60 L124.30,463.60 L125.37,463.60 L126.45,463.60 L127.53,463.60 L128.61,463.60 L129.69,463.60 L130.77,463.59 L131.85,463.59 L132.93,463.58 L134.01,463.58 L135.09,463.57 L136.17,463.56 L137.25,463.55 L138.32,463.54 L139.40,463.52 L140.48,463.51 L141.56,463.50 L142.64,463.48 L143.72,463.47 L144.80,463.45 L145.88,463.43 L146.96,463.42 L148.04,463.40 L149.12,463.38 L150.19,463.36 L151.27,463.33 L152.35,463.30 L153.43,463.27 L154.51,463.23 L155.59,463.19 L156.67,463.15 L157.75,463.10 L158.83,463.06 L159.91,463.01 L160.99,462.96 L162.07,462.91 L163.14,462.85 L164.22,462.80 L165.30,462.74 L166.38,462.69 L167.46,462.63 L168.54,462.57 L169.62,462.51 L170.70,462.44 L171.78,462.38 L172.86,462.30 L173.94,462.23 L175.02,462.15 L176.09,462.07 L177.17,461.98 L178.25,461.90 L179.33,461.81 L180.41,461.71 L181.49,461.62 L182.57,461.52 L183.65,461.42 L184.73,461.32 L185.81,461.22 L186.89,461.11 L187.97,461.00 L189.04,460.89 L190.12,460.77 L191.20,460.65 L192.28,460.52 L193.36,460.38 L194.44,460.24 L195.52,460.09 L196.60,459.94 L197.68,459.79 L198.76,459.64 L199.84,459.48 L200.92,459.32 L201.99,459.16 L203.07,459.00 L204.15,458.85 L205.23,458.69 L206.31,458.54 L207.39,458.38 L208.47,458.24 L209.55,458.09 L210.63,457.95 L211.71,457.80 L212.79,457.64 L213.86,457.45 L214.94,457.24 L216.02,457.02 L217.10,456.79 L218.18,456.55 L219.26,456.30 L220.34,456.04 L221.42,455.78 L222.50,455.52 L223.58,455.26 L224.66,455.01 L225.74,454.75 L226.81,454.48 L227.89,454.21 L228.97,453.94 L230.05,453.65 L231.13,453.35 L232.21,453.04 L233.29,452.71 L234.37,452.35 L235.45,451.96 L236.53,451.55 L237.61,451.12 L238.69,450.69 L239.76,450.25 L240.84,449.82 L241.92,449.40 L243.00,449.00 L244.08,448.62 L245.16,448.25 L246.24,447.89 L247.32,447.53 L248.40,447.18 L249.48,446.82 L250.56,446.46 L251.64,446.09 L252.71,445.70 L253.79,445.31 L254.87,444.90 L255.95,444.48 L257.03,444.05 L258.11,443.61 L259.19,443.17 L260.27,442.73 L261.35,442.29 L262.43,441.84 L263.51,441.39 L264.58,440.94 L265.66,440.49 L266.74,440.03 L267.82,439.57 L268.90,439.11 L269.98,438.64 L271.06,438.16 L272.14,437.69 L273.22,437.20 L274.30,436.71 L275.38,436.21 L276.46,435.70 L277.53,435.19 L278.61,434.67 L279.69,434.15 L280.77,433.64 L281.85,433.13 L282.93,432.63 L284.01,432.14 L285.09,431.64 L286.17,431.15 L287.25,430.65 L288.33,430.16 L289.41,429.68 L290.48,429.20 L291.56,428.72 L292.64,428.25 L293.72,427.79 L294.80,427.32 L295.88,426.85 L296.96,426.39 L298.04,425.93 L299.12,425.48 L300.20,425.05 L301.28,424.63 L302.36,424.23 L303.43,423.85 L304.51,423.49 L305.59,423.14 L306.67,422.81 L307.75,422.48 L308.83,422.17 L309.91,421.86 L310.99,421.55 L312.07,421.26 L313.15,420.96 L314.23,420.66 L315.31,420.37 L316.38,420.08 L317.46,419.79 L318.54,419.51 L319.62,419.25 L320.70,418.99 L321.78,418.75 L322.86,418.53 L323.94,418.32 L325.02,418.12 L326.10,417.93 L327.18,417.74 L328.25,417.57 L329.33,417.40 L330.41,417.24 L331.49,417.09 L332.57,416.95 L333.65,416.82 L334.73,416.69 L335.81,416.57 L336.89,416.45 L337.97,416.33 L339.05,416.23 L340.13,416.13 L341.20,416.03 L342.28,415.95 L343.36,415.88 L344.44,415.81 L345.52,415.75 L346.60,415.69 L347.68,415.63 L348.76,415.58 L349.84,415.53 L350.92,415.48 L352.00,415.44 L353.08,415.40 L354.15,415.36 L355.23,415.31 L356.31,415.27 L357.39,415.23 L358.47,415.19 L359.55,415.16 L360.63,415.12 L361.71,415.08 L362.79,415.05 L363.87,415.01 L364.95,414.98 L366.03,414.95 L367.10,414.92 L368.18,414.89 L369.26,414.87 L370.34,414.84 L371.42,414.82 L372.50,414.80" stroke="#a2142f" stroke-width="2.1" stroke-dasharray="5.6 2.7"/>
<path d="M93.00,414.60 L94.08,414.60 L95.16,414.60 L96.24,414.60 L97.32,414.59 L98.40,414.59 L99.47,414.59 L100.55,414.58 L101.63,414.58 L102.71,414.57 L103.79,414.56 L104.87,414.55 L105.95,414.55 L107.03,414.54 L108.11,414.53 L109.19,414.52 L110.27,414.51 L111.35,414.49 L112.42,414.48 L113.50,414.47 L114.58,414.46 L115.66,414.44 L116.74,414.43 L117.82,414.41 L118.90,414.40 L119.98,414.38 L121.06,414.37 L122.14,414.35 L123.22,414.33 L124.30,414.32 L125.37,414.30 L126.45,414.28 L127.53,414.26 L128.61,414.24 L129.69,414.22 L130.77,414.20 L131.85,414.18 L132.93,414.16 L134.01,414.14 L135.09,414.12 L136.17,414.10 L137.25,414.08 L138.32,414.05 L139.40,414.03 L140.48,414.01 L141.56,413.99 L142.64,413.96 L143.72,413.94 L144.80,413.92 L145.88,413.89 L146.96,413.87 L148.04,413.84 L149.12,413.82 L150.19,413.80 L151.27,413.77 L152.35,413.74 L153.43,413.71 L154.51,413.68 L155.59,413.64 L156.67,413.61 L157.75,413.57 L158.83,413.53 L159.91,413.49 L160.99,413.44 L162.07,413.40 L163.14,413.35 L164.22,413.30 L165.30,413.24 L166.38,413.19 L167.46,413.14 L168.54,413.08 L169.62,413.02 L170.70,412.96 L171.78,412.89 L172.86,412.82 L173.94,412.75 L175.02,412.66 L176.09,412.58 L177.17,412.49 L178.25,412.39 L179.33,412.30 L180.41,412.19 L181.49,412.09 L182.57,411.98 L183.65,411.87 L184.73,411.76 L185.81,411.65 L186.89,411.54 L187.97,411.42 L189.04,411.30 L190.12,411.19 L191.20,411.07 L192.28,410.94 L193.36,410.82 L194.44,410.68 L195.52,410.55 L196.60,410.41 L197.68,410.27 L198.76,410.13 L199.84,409.98 L200.92,409.83 L201.99,409.68 L203.07,409.52 L204.15,409.36 L205.23,409.20 L206.31,409.04 L207.39,408.88 L208.47,408.71 L209.55,408.54 L210.63,408.38 L211.71,408.21 L212.79,408.03 L213.86,407.85 L214.94,407.65 L216.02,407.43 L217.10,407.20 L218.18,406.98 L219.26,406.76 L220.34,406.56 L221.42,406.39 L222.50,406.25 L223.58,406.15 L224.66,406.07 L225.74,406.00 L226.81,405.94 L227.89,405.89 L228.97,405.83 L230.05,405.78 L231.13,405.72 L232.21,405.66 L233.29,405.58 L234.37,405.49 L235.45,405.40 L236.53,405.30 L237.61,405.20 L238.69,405.09 L239.76,404.98 L240.84,404.86 L241.92,404.73 L243.00,404.60 L244.08,404.46 L245.16,404.30 L246.24,404.12 L247.32,403.94 L248.40,403.75 L249.48,403.56 L250.56,403.38 L251.64,403.20 L252.71,403.04 L253.79,402.89 L254.87,402.74 L255.95,402.58 L257.03,402.43 L258.11,402.29 L259.19,402.15 L260.27,402.03 L261.35,401.93 L262.43,401.84 L263.51,401.77 L264.58,401.71 L265.66,401.64 L266.74,401.59 L267.82,401.53 L268.90,401.49 L269.98,401.45 L271.06,401.42 L272.14,401.40 L273.22,401.40 L274.30,401.41 L275.38,401.43 L276.46,401.46 L277.53,401.50 L278.61,401.55 L279.69,401.61 L280.77,401.67 L281.85,401.73 L282.93,401.80 L284.01,401.87 L285.09,401.97 L286.17,402.08 L287.25,402.21 L288.33,402.35 L289.41,402.49 L290.48,402.65 L291.56,402.80 L292.64,402.95 L293.72,403.10 L294.80,403.26 L295.88,403.42 L296.96,403.58 L298.04,403.76 L299.12,403.93 L300.20,404.11 L301.28,404.30 L302.36,404.49 L303.43,404.68 L304.51,404.88 L305.59,405.09 L306.67,405.30 L307.75,405.52 L308.83,405.74 L309.91,405.97 L310.99,406.19 L312.07,406.41 L313.15,406.63 L314.23,406.85 L315.31,407.06 L316.38,407.28 L317.46,407.49 L318.54,407.71 L319.62,407.92 L320.70,408.14 L321.78,408.36 L322.86,408.57 L323.94,408.79 L325.02,409.01 L326.10,409.24 L327.18,409.47 L328.25,409.70 L329.33,409.92 L330.41,410.13 L331.49,410.34 L332.57,410.53 L333.65,410.71 L334.73,410.88 L335.81,411.04 L336.89,411.20 L337.97,411.36 L339.05,411.50 L340.13,411.65 L341.20,411.78 L342.28,411.92 L343.36,412.04 L344.44,412.16 L345.52,412.28 L346.60,412.40 L347.68,412.51 L348.76,412.61 L349.84,412.72 L350.92,412.82 L352.00,412.91 L353.08,413.01 L354.15,413.10 L355.23,413.19 L356.31,413.28 L357.39,413.36 L358.47,413.45 L359.55,413.54 L360.63,413.62 L361.71,413.70 L362.79,413.78 L363.87,413.86 L364.95,413.93 L366.03,414.01 L367.10,414.08 L368.18,414.15 L369.26,414.22 L370.34,414.28 L371.42,414.34 L372.50,414.40" stroke="#a2142f" stroke-width="2.0"/>
</g>
<g fill="none" stroke="#2a2a2a" stroke-width="0.65">
<circle cx="168" cy="413" r="4.05"/>
<circle cx="191" cy="410" r="4.05"/>
<circle cx="214.5" cy="404.8" r="4.05"/>
<circle cx="237.6" cy="397" r="4.05"/>
<circle cx="261" cy="380" r="4.05"/>
<circle cx="284.4" cy="365" r="4.05"/>
<circle cx="307.6" cy="372.4" r="4.05"/>
<circle cx="331" cy="396" r="4.05"/>
<rect x="163.70" y="547.70" width="8.6" height="8.6"/>
<rect x="186.70" y="546.50" width="8.6" height="8.6"/>
<rect x="210.20" y="542.70" width="8.6" height="8.6"/>
<rect x="233.70" y="535.30" width="8.6" height="8.6"/>
<rect x="256.70" y="519.10" width="8.6" height="8.6"/>
<rect x="280.10" y="482.70" width="8.6" height="8.6"/>
<rect x="303.30" y="436.70" width="8.6" height="8.6"/>
<rect x="326.70" y="415.30" width="8.6" height="8.6"/>
</g>
<g fill="#2a2a2a" stroke="none" opacity="0.6">
<rect x="167.60" y="551.60" width="0.8" height="0.8"/>
<rect x="190.60" y="550.40" width="0.8" height="0.8"/>
<rect x="214.10" y="546.60" width="0.8" height="0.8"/>
<rect x="237.60" y="539.20" width="0.8" height="0.8"/>
<rect x="260.60" y="523.00" width="0.8" height="0.8"/>
<rect x="284.00" y="486.60" width="0.8" height="0.8"/>
<rect x="307.20" y="440.60" width="0.8" height="0.8"/>
<rect x="330.60" y="419.20" width="0.8" height="0.8"/>
<rect x="167.60" y="412.60" width="0.8" height="0.8"/>
<rect x="190.60" y="409.60" width="0.8" height="0.8"/>
<rect x="214.10" y="404.40" width="0.8" height="0.8"/>
<rect x="237.20" y="396.60" width="0.8" height="0.8"/>
<rect x="260.60" y="379.60" width="0.8" height="0.8"/>
<rect x="284.00" y="364.60" width="0.8" height="0.8"/>
<rect x="307.20" y="372.00" width="0.8" height="0.8"/>
<rect x="330.60" y="395.60" width="0.8" height="0.8"/>
</g>
<g clip-path="url(#c3)" fill="none" stroke-linejoin="round">
<path d="M93.00,553.00 L94.08,553.00 L95.16,553.00 L96.24,553.00 L97.32,553.00 L98.40,553.00 L99.47,553.00 L100.55,553.00 L101.63,553.00 L102.71,552.99 L103.79,552.99 L104.87,552.99 L105.95,552.99 L107.03,552.99 L108.11,552.99 L109.19,552.98 L110.27,552.98 L111.35,552.98 L112.42,552.98 L113.50,552.97 L114.58,552.97 L115.66,552.97 L116.74,552.96 L117.82,552.96 L118.90,552.96 L119.98,552.95 L121.06,552.95 L122.14,552.95 L123.22,552.94 L124.30,552.94 L125.37,552.93 L126.45,552.93 L127.53,552.92 L128.61,552.92 L129.69,552.91 L130.77,552.91 L131.85,552.90 L132.93,552.90 L134.01,552.89 L135.09,552.89 L136.17,552.88 L137.25,552.87 L138.32,552.87 L139.40,552.86 L140.48,552.85 L141.56,552.85 L142.64,552.84 L143.72,552.83 L144.80,552.82 L145.88,552.82 L146.96,552.81 L148.04,552.80 L149.12,552.79 L150.19,552.77 L151.27,552.75 L152.35,552.72 L153.43,552.69 L154.51,552.65 L155.59,552.61 L156.67,552.57 L157.75,552.53 L158.83,552.48 L159.91,552.43 L160.99,552.37 L162.07,552.32 L163.14,552.26 L164.22,552.20 L165.30,552.14 L166.38,552.09 L167.46,552.03 L168.54,551.97 L169.62,551.91 L170.70,551.84 L171.78,551.78 L172.86,551.70 L173.94,551.63 L175.02,551.55 L176.09,551.47 L177.17,551.38 L178.25,551.29 L179.33,551.20 L180.41,551.11 L181.49,551.02 L182.57,550.92 L183.65,550.82 L184.73,550.72 L185.81,550.61 L186.89,550.51 L187.97,550.40 L189.04,550.29 L190.12,550.17 L191.20,550.04 L192.28,549.90 L193.36,549.75 L194.44,549.60 L195.52,549.45 L196.60,549.29 L197.68,549.14 L198.76,548.98 L199.84,548.82 L200.92,548.67 L201.99,548.52 L203.07,548.37 L204.15,548.23 L205.23,548.10 L206.31,547.97 L207.39,547.86 L208.47,547.76 L209.55,547.68 L210.63,547.61 L211.71,547.53 L212.79,547.42 L213.86,547.28 L214.94,547.07 L216.02,546.82 L217.10,546.52 L218.18,546.19 L219.26,545.84 L220.34,545.48 L221.42,545.12 L222.50,544.76 L223.58,544.42 L224.66,544.07 L225.74,543.71 L226.81,543.35 L227.89,542.97 L228.97,542.58 L230.05,542.17 L231.13,541.76 L232.21,541.33 L233.29,540.88 L234.37,540.41 L235.45,539.92 L236.53,539.41 L237.61,538.88 L238.69,538.33 L239.76,537.77 L240.84,537.19 L241.92,536.60 L243.00,536.00 L244.08,535.38 L245.16,534.75 L246.24,534.10 L247.32,533.43 L248.40,532.74 L249.48,532.03 L250.56,531.31 L251.64,530.56 L252.71,529.79 L253.79,529.00 L254.87,528.19 L255.95,527.36 L257.03,526.49 L258.11,525.59 L259.19,524.65 L260.27,523.67 L261.35,522.65 L262.43,521.57 L263.51,520.42 L264.58,519.20 L265.66,517.92 L266.74,516.58 L267.82,515.20 L268.90,513.77 L269.98,512.30 L271.06,510.79 L272.14,509.20 L273.22,507.54 L274.30,505.83 L275.38,504.07 L276.46,502.28 L277.53,500.46 L278.61,498.64 L279.69,496.77 L280.77,494.85 L281.85,492.89 L282.93,490.91 L284.01,488.91 L285.09,486.91 L286.17,484.89 L287.25,482.84 L288.33,480.79 L289.41,478.71 L290.48,476.61 L291.56,474.50 L292.64,472.36 L293.72,470.19 L294.80,468.02 L295.88,465.85 L296.96,463.68 L298.04,461.49 L299.12,459.26 L300.20,457.05 L301.28,454.89 L302.36,452.82 L303.43,450.86 L304.51,448.95 L305.59,447.11 L306.67,445.32 L307.75,443.60 L308.83,441.95 L309.91,440.35 L310.99,438.76 L312.07,437.21 L313.15,435.72 L314.23,434.28 L315.31,432.93 L316.38,431.67 L317.46,430.51 L318.54,429.41 L319.62,428.36 L320.70,427.37 L321.78,426.43 L322.86,425.55 L323.94,424.73 L325.02,423.99 L326.10,423.29 L327.18,422.63 L328.25,422.00 L329.33,421.41 L330.41,420.85 L331.49,420.33 L332.57,419.86 L333.65,419.43 L334.73,419.04 L335.81,418.67 L336.89,418.32 L337.97,417.99 L339.05,417.68 L340.13,417.40 L341.20,417.15 L342.28,416.93 L343.36,416.74 L344.44,416.56 L345.52,416.40 L346.60,416.24 L347.68,416.09 L348.76,415.96 L349.84,415.85 L350.92,415.74 L352.00,415.66 L353.08,415.60 L354.15,415.54 L355.23,415.49 L356.31,415.43 L357.39,415.38 L358.47,415.34 L359.55,415.29 L360.63,415.25 L361.71,415.21 L362.79,415.17 L363.87,415.14 L364.95,415.11 L366.03,415.08 L367.10,415.06 L368.18,415.04 L369.26,415.02 L370.34,415.01 L371.42,415.00 L372.50,415.00" stroke="#000" stroke-width="3.1" stroke-dasharray="5.8 2.5"/>
<path d="M93.00,414.60 L94.08,414.60 L95.16,414.60 L96.24,414.60 L97.32,414.59 L98.40,414.59 L99.47,414.58 L100.55,414.58 L101.63,414.57 L102.71,414.56 L103.79,414.55 L104.87,414.54 L105.95,414.53 L107.03,414.52 L108.11,414.51 L109.19,414.50 L110.27,414.48 L111.35,414.47 L112.42,414.46 L113.50,414.44 L114.58,414.43 L115.66,414.41 L116.74,414.39 L117.82,414.38 L118.90,414.36 L119.98,414.34 L121.06,414.32 L122.14,414.31 L123.22,414.29 L124.30,414.27 L125.37,414.25 L126.45,414.23 L127.53,414.21 L128.61,414.19 L129.69,414.16 L130.77,414.13 L131.85,414.09 L132.93,414.05 L134.01,414.01 L135.09,413.96 L136.17,413.92 L137.25,413.87 L138.32,413.81 L139.40,413.76 L140.48,413.71 L141.56,413.66 L142.64,413.61 L143.72,413.56 L144.80,413.52 L145.88,413.47 L146.96,413.43 L148.04,413.40 L149.12,413.37 L150.19,413.34 L151.27,413.31 L152.35,413.29 L153.43,413.27 L154.51,413.25 L155.59,413.23 L156.67,413.21 L157.75,413.18 L158.83,413.16 L159.91,413.14 L160.99,413.12 L162.07,413.09 L163.14,413.07 L164.22,413.04 L165.30,413.00 L166.38,412.96 L167.46,412.92 L168.54,412.87 L169.62,412.81 L170.70,412.72 L171.78,412.62 L172.86,412.50 L173.94,412.38 L175.02,412.25 L176.09,412.12 L177.17,412.00 L178.25,411.87 L179.33,411.75 L180.41,411.62 L181.49,411.48 L182.57,411.34 L183.65,411.20 L184.73,411.06 L185.81,410.91 L186.89,410.76 L187.97,410.60 L189.04,410.45 L190.12,410.29 L191.20,410.12 L192.28,409.95 L193.36,409.77 L194.44,409.60 L195.52,409.42 L196.60,409.24 L197.68,409.05 L198.76,408.87 L199.84,408.69 L200.92,408.51 L201.99,408.33 L203.07,408.14 L204.15,407.95 L205.23,407.75 L206.31,407.54 L207.39,407.33 L208.47,407.10 L209.55,406.86 L210.63,406.60 L211.71,406.34 L212.79,406.06 L213.86,405.77 L214.94,405.48 L216.02,405.17 L217.10,404.86 L218.18,404.55 L219.26,404.22 L220.34,403.89 L221.42,403.55 L222.50,403.19 L223.58,402.83 L224.66,402.45 L225.74,402.06 L226.81,401.66 L227.89,401.24 L228.97,400.80 L230.05,400.34 L231.13,399.85 L232.21,399.35 L233.29,398.83 L234.37,398.31 L235.45,397.78 L236.53,397.24 L237.61,396.68 L238.69,396.11 L239.76,395.53 L240.84,394.94 L241.92,394.35 L243.00,393.75 L244.08,393.13 L245.16,392.51 L246.24,391.87 L247.32,391.23 L248.40,390.58 L249.48,389.92 L250.56,389.23 L251.64,388.53 L252.71,387.80 L253.79,387.03 L254.87,386.22 L255.95,385.37 L257.03,384.49 L258.11,383.60 L259.19,382.69 L260.27,381.80 L261.35,380.91 L262.43,380.05 L263.51,379.21 L264.58,378.37 L265.66,377.53 L266.74,376.70 L267.82,375.87 L268.90,375.06 L269.98,374.26 L271.06,373.50 L272.14,372.76 L273.22,372.06 L274.30,371.36 L275.38,370.65 L276.46,369.96 L277.53,369.30 L278.61,368.71 L279.69,368.19 L280.77,367.77 L281.85,367.44 L282.93,367.11 L284.01,366.80 L285.09,366.52 L286.17,366.29 L287.25,366.12 L288.33,366.02 L289.41,366.00 L290.48,366.05 L291.56,366.16 L292.64,366.30 L293.72,366.49 L294.80,366.70 L295.88,366.94 L296.96,367.19 L298.04,367.52 L299.12,368.00 L300.20,368.60 L301.28,369.29 L302.36,370.05 L303.43,370.84 L304.51,371.64 L305.59,372.45 L306.67,373.35 L307.75,374.32 L308.83,375.36 L309.91,376.43 L310.99,377.52 L312.07,378.59 L313.15,379.64 L314.23,380.68 L315.31,381.74 L316.38,382.80 L317.46,383.87 L318.54,384.93 L319.62,385.98 L320.70,387.02 L321.78,388.04 L322.86,389.06 L323.94,390.09 L325.02,391.10 L326.10,392.09 L327.18,393.06 L328.25,393.99 L329.33,394.87 L330.41,395.73 L331.49,396.57 L332.57,397.38 L333.65,398.17 L334.73,398.93 L335.81,399.65 L336.89,400.33 L337.97,400.98 L339.05,401.60 L340.13,402.20 L341.20,402.78 L342.28,403.33 L343.36,403.85 L344.44,404.35 L345.52,404.83 L346.60,405.28 L347.68,405.71 L348.76,406.13 L349.84,406.53 L350.92,406.91 L352.00,407.28 L353.08,407.62 L354.15,407.96 L355.23,408.29 L356.31,408.60 L357.39,408.91 L358.47,409.20 L359.55,409.49 L360.63,409.76 L361.71,410.01 L362.79,410.25 L363.87,410.48 L364.95,410.71 L366.03,410.92 L367.10,411.13 L368.18,411.32 L369.26,411.51 L370.34,411.68 L371.42,411.85 L372.50,412.00" stroke="#000" stroke-width="3.25"/>
</g>
<g fill="none" stroke="#141414" stroke-width="1">
<rect x="93.25" y="332.5" width="279.25" height="247.5"/>
<path d="M186.3,580 V575.5 M186.3,332.5 V337.0"/>
<path d="M279.4,580 V575.5 M279.4,332.5 V337.0"/>
<path d="M93.25,415 H97.75 M372.5,415 H368.0"/>
<path d="M93.25,497.5 H97.75 M372.5,497.5 H368.0"/>
</g>
<clipPath id="c4"><rect x="484" y="329.5" width="288.5" height="250.5"/></clipPath>
<g clip-path="url(#c4)" fill="none" stroke-linejoin="round">
<path d="M484.00,531.00 L674.40,531.00" stroke="#2a2a2a" stroke-width="1.0" stroke-dasharray="3 4" stroke-dashoffset="1.5"/>
<path d="M484.00,439.80 L485.11,439.80 L486.23,439.80 L487.34,439.80 L488.46,439.80 L489.57,439.80 L490.68,439.80 L491.80,439.80 L492.91,439.80 L494.03,439.80 L495.14,439.80 L496.25,439.80 L497.37,439.80 L498.48,439.80 L499.59,439.80 L500.71,439.80 L501.82,439.80 L502.94,439.80 L504.05,439.80 L505.16,439.80 L506.28,439.80 L507.39,439.80 L508.51,439.80 L509.62,439.80 L510.73,439.80 L511.85,439.80 L512.96,439.80 L514.08,439.80 L515.19,439.80 L516.30,439.80 L517.42,439.80 L518.53,439.80 L519.64,439.80 L520.76,439.80 L521.87,439.80 L522.99,439.80 L524.10,439.80 L525.21,439.80 L526.33,439.80 L527.44,439.80 L528.56,439.80 L529.67,439.80 L530.78,439.80 L531.90,439.80 L533.01,439.80 L534.13,439.80 L535.24,439.80 L536.35,439.80 L537.47,439.80 L538.58,439.80 L539.69,439.80 L540.81,439.80 L541.92,439.80 L543.04,439.80 L544.15,439.80 L545.26,439.80 L546.38,439.80 L547.49,439.80 L548.61,439.80 L549.72,439.80 L550.83,439.80 L551.95,439.80 L553.06,439.80 L554.18,439.80 L555.29,439.80 L556.40,439.80 L557.52,439.80 L558.63,439.80 L559.75,439.80 L560.86,439.80 L561.97,439.80 L563.09,439.80 L564.20,439.80 L565.31,439.80 L566.43,439.80 L567.54,439.80 L568.66,439.80 L569.77,439.80 L570.88,439.80 L572.00,439.80 L573.11,439.80 L574.23,439.80 L575.34,439.80 L576.45,439.80 L577.57,439.80 L578.68,439.80 L579.80,439.80 L580.91,439.80 L582.02,439.80 L583.14,439.80 L584.25,439.80 L585.36,439.80 L586.48,439.80 L587.59,439.80 L588.71,439.80 L589.82,439.80 L590.93,439.80 L592.05,439.80 L593.16,439.80 L594.28,439.80 L595.39,439.80 L596.50,439.80 L597.62,439.80 L598.73,439.80 L599.85,439.80 L600.96,439.80 L602.07,439.80 L603.19,439.79 L604.30,439.79 L605.42,439.78 L606.53,439.77 L607.64,439.76 L608.76,439.75 L609.87,439.74 L610.98,439.73 L612.10,439.71 L613.21,439.70 L614.33,439.68 L615.44,439.67 L616.55,439.65 L617.67,439.63 L618.78,439.62 L619.90,439.60 L621.01,439.58 L622.12,439.57 L623.24,439.55 L624.35,439.53 L625.47,439.50 L626.58,439.48 L627.69,439.45 L628.81,439.42 L629.92,439.39 L631.03,439.36 L632.15,439.33 L633.26,439.29 L634.38,439.25 L635.49,439.21 L636.60,439.16 L637.72,439.11 L638.83,439.06 L639.95,439.00 L641.06,438.93 L642.17,438.84 L643.29,438.73 L644.40,438.61 L645.52,438.47 L646.63,438.31 L647.74,438.15 L648.86,437.98 L649.97,437.80 L651.08,437.62 L652.20,437.41 L653.31,437.18 L654.43,436.93 L655.54,436.67 L656.65,436.39 L657.77,436.11 L658.88,435.81 L660.00,435.50 L661.11,435.18 L662.22,434.84 L663.34,434.48 L664.45,434.11 L665.57,433.72 L666.68,433.31 L667.79,432.88 L668.91,432.44 L670.02,431.99 L671.14,431.52 L672.25,431.03 L673.36,430.51 L674.48,429.97 L675.59,429.42 L676.70,428.84 L677.82,428.23 L678.93,427.61 L680.05,426.97 L681.16,426.30 L682.27,425.60 L683.39,424.87 L684.50,424.10 L685.62,423.32 L686.73,422.50 L687.84,421.67 L688.96,420.81 L690.07,419.94 L691.19,419.04 L692.30,418.09 L693.41,417.11 L694.53,416.11 L695.64,415.08 L696.75,414.04 L697.87,412.99 L698.98,411.95 L700.10,410.91 L701.21,409.87 L702.32,408.81 L703.44,407.73 L704.55,406.65 L705.67,405.57 L706.78,404.50 L707.89,403.44 L709.01,402.40 L710.12,401.39 L711.24,400.38 L712.35,399.36 L713.46,398.34 L714.58,397.34 L715.69,396.36 L716.81,395.41 L717.92,394.52 L719.03,393.67 L720.15,392.90 L721.26,392.17 L722.37,391.46 L723.49,390.78 L724.60,390.13 L725.72,389.51 L726.83,388.92 L727.94,388.38 L729.06,387.88 L730.17,387.43 L731.29,387.01 L732.40,386.61 L733.51,386.24 L734.63,385.88 L735.74,385.55 L736.86,385.24 L737.97,384.95 L739.08,384.69 L740.20,384.46 L741.31,384.25 L742.42,384.05 L743.54,383.86 L744.65,383.68 L745.77,383.52 L746.88,383.37 L747.99,383.23 L749.11,383.10 L750.22,382.98 L751.34,382.86 L752.45,382.75 L753.56,382.65 L754.68,382.55 L755.79,382.46 L756.91,382.38 L758.02,382.31 L759.13,382.24 L760.25,382.19 L761.36,382.14 L762.47,382.09 L763.59,382.04 L764.70,381.99 L765.82,381.95 L766.93,381.91 L768.04,381.88 L769.16,381.85 L770.27,381.83 L771.39,381.81 L772.50,381.80" stroke="#77ac30" stroke-width="2.1" stroke-dasharray="5.6 2.7"/>
<path d="M484.00,381.60 L485.11,381.60 L486.23,381.60 L487.34,381.60 L488.46,381.60 L489.57,381.60 L490.68,381.60 L491.80,381.60 L492.91,381.60 L494.03,381.60 L495.14,381.60 L496.25,381.60 L497.37,381.60 L498.48,381.60 L499.59,381.60 L500.71,381.60 L501.82,381.59 L502.94,381.59 L504.05,381.59 L505.16,381.59 L506.28,381.59 L507.39,381.59 L508.51,381.59 L509.62,381.59 L510.73,381.59 L511.85,381.59 L512.96,381.59 L514.08,381.58 L515.19,381.58 L516.30,381.58 L517.42,381.58 L518.53,381.58 L519.64,381.58 L520.76,381.58 L521.87,381.57 L522.99,381.57 L524.10,381.57 L525.21,381.57 L526.33,381.57 L527.44,381.57 L528.56,381.56 L529.67,381.56 L530.78,381.56 L531.90,381.56 L533.01,381.56 L534.13,381.56 L535.24,381.55 L536.35,381.55 L537.47,381.55 L538.58,381.55 L539.69,381.54 L540.81,381.54 L541.92,381.54 L543.04,381.54 L544.15,381.53 L545.26,381.53 L546.38,381.53 L547.49,381.53 L548.61,381.52 L549.72,381.52 L550.83,381.52 L551.95,381.52 L553.06,381.51 L554.18,381.51 L555.29,381.51 L556.40,381.50 L557.52,381.50 L558.63,381.50 L559.75,381.49 L560.86,381.49 L561.97,381.48 L563.09,381.47 L564.20,381.46 L565.31,381.45 L566.43,381.43 L567.54,381.42 L568.66,381.41 L569.77,381.39 L570.88,381.38 L572.00,381.37 L573.11,381.35 L574.23,381.34 L575.34,381.33 L576.45,381.31 L577.57,381.30 L578.68,381.29 L579.80,381.29 L580.91,381.28 L582.02,381.27 L583.14,381.26 L584.25,381.25 L585.36,381.25 L586.48,381.24 L587.59,381.23 L588.71,381.22 L589.82,381.20 L590.93,381.19 L592.05,381.17 L593.16,381.14 L594.28,381.11 L595.39,381.08 L596.50,381.04 L597.62,381.00 L598.73,380.95 L599.85,380.91 L600.96,380.86 L602.07,380.81 L603.19,380.75 L604.30,380.70 L605.42,380.64 L606.53,380.58 L607.64,380.53 L608.76,380.47 L609.87,380.41 L610.98,380.35 L612.10,380.28 L613.21,380.22 L614.33,380.15 L615.44,380.07 L616.55,380.00 L617.67,379.92 L618.78,379.84 L619.90,379.75 L621.01,379.66 L622.12,379.57 L623.24,379.47 L624.35,379.37 L625.47,379.27 L626.58,379.16 L627.69,379.05 L628.81,378.93 L629.92,378.81 L631.03,378.68 L632.15,378.53 L633.26,378.37 L634.38,378.20 L635.49,378.01 L636.60,377.82 L637.72,377.62 L638.83,377.42 L639.95,377.21 L641.06,377.00 L642.17,376.79 L643.29,376.56 L644.40,376.33 L645.52,376.09 L646.63,375.84 L647.74,375.57 L648.86,375.30 L649.97,375.01 L651.08,374.70 L652.20,374.36 L653.31,374.00 L654.43,373.63 L655.54,373.24 L656.65,372.84 L657.77,372.43 L658.88,372.02 L660.00,371.60 L661.11,371.18 L662.22,370.75 L663.34,370.30 L664.45,369.85 L665.57,369.39 L666.68,368.92 L667.79,368.44 L668.91,367.97 L670.02,367.49 L671.14,367.00 L672.25,366.50 L673.36,365.98 L674.48,365.46 L675.59,364.94 L676.70,364.42 L677.82,363.92 L678.93,363.44 L680.05,362.98 L681.16,362.53 L682.27,362.08 L683.39,361.63 L684.50,361.19 L685.62,360.77 L686.73,360.37 L687.84,360.00 L688.96,359.67 L690.07,359.38 L691.19,359.11 L692.30,358.83 L693.41,358.56 L694.53,358.30 L695.64,358.07 L696.75,357.87 L697.87,357.72 L698.98,357.63 L700.10,357.60 L701.21,357.62 L702.32,357.67 L703.44,357.75 L704.55,357.85 L705.67,357.96 L706.78,358.11 L707.89,358.35 L709.01,358.67 L710.12,359.06 L711.24,359.48 L712.35,359.93 L713.46,360.39 L714.58,360.83 L715.69,361.33 L716.81,361.86 L717.92,362.43 L719.03,363.02 L720.15,363.61 L721.26,364.21 L722.37,364.80 L723.49,365.40 L724.60,366.03 L725.72,366.66 L726.83,367.29 L727.94,367.91 L729.06,368.51 L730.17,369.09 L731.29,369.65 L732.40,370.21 L733.51,370.76 L734.63,371.30 L735.74,371.82 L736.86,372.33 L737.97,372.80 L739.08,373.25 L740.20,373.67 L741.31,374.06 L742.42,374.44 L743.54,374.80 L744.65,375.15 L745.77,375.48 L746.88,375.79 L747.99,376.10 L749.11,376.38 L750.22,376.65 L751.34,376.92 L752.45,377.17 L753.56,377.42 L754.68,377.65 L755.79,377.88 L756.91,378.09 L758.02,378.29 L759.13,378.47 L760.25,378.64 L761.36,378.79 L762.47,378.95 L763.59,379.10 L764.70,379.24 L765.82,379.38 L766.93,379.51 L768.04,379.63 L769.16,379.74 L770.27,379.83 L771.39,379.92 L772.50,380.00" stroke="#77ac30" stroke-width="2.0"/>
<path d="M484.00,473.00 L485.11,473.00 L486.23,473.00 L487.34,473.00 L488.46,473.00 L489.57,472.99 L490.68,472.99 L491.80,472.99 L492.91,472.99 L494.03,472.98 L495.14,472.98 L496.25,472.98 L497.37,472.97 L498.48,472.97 L499.59,472.96 L500.71,472.96 L501.82,472.95 L502.94,472.94 L504.05,472.94 L505.16,472.93 L506.28,472.92 L507.39,472.92 L508.51,472.91 L509.62,472.90 L510.73,472.89 L511.85,472.88 L512.96,472.87 L514.08,472.86 L515.19,472.85 L516.30,472.84 L517.42,472.83 L518.53,472.82 L519.64,472.81 L520.76,472.80 L521.87,472.79 L522.99,472.78 L524.10,472.77 L525.21,472.75 L526.33,472.74 L527.44,472.73 L528.56,472.72 L529.67,472.70 L530.78,472.69 L531.90,472.68 L533.01,472.66 L534.13,472.65 L535.24,472.64 L536.35,472.62 L537.47,472.61 L538.58,472.59 L539.69,472.57 L540.81,472.55 L541.92,472.53 L543.04,472.50 L544.15,472.48 L545.26,472.44 L546.38,472.41 L547.49,472.38 L548.61,472.34 L549.72,472.30 L550.83,472.26 L551.95,472.23 L553.06,472.18 L554.18,472.14 L555.29,472.10 L556.40,472.06 L557.52,472.02 L558.63,471.98 L559.75,471.93 L560.86,471.89 L561.97,471.84 L563.09,471.80 L564.20,471.75 L565.31,471.70 L566.43,471.65 L567.54,471.60 L568.66,471.54 L569.77,471.48 L570.88,471.43 L572.00,471.36 L573.11,471.30 L574.23,471.24 L575.34,471.17 L576.45,471.10 L577.57,471.03 L578.68,470.95 L579.80,470.87 L580.91,470.79 L582.02,470.70 L583.14,470.61 L584.25,470.51 L585.36,470.41 L586.48,470.30 L587.59,470.19 L588.71,470.08 L589.82,469.96 L590.93,469.84 L592.05,469.71 L593.16,469.59 L594.28,469.46 L595.39,469.32 L596.50,469.19 L597.62,469.05 L598.73,468.91 L599.85,468.76 L600.96,468.60 L602.07,468.44 L603.19,468.27 L604.30,468.09 L605.42,467.91 L606.53,467.72 L607.64,467.53 L608.76,467.33 L609.87,467.13 L610.98,466.93 L612.10,466.72 L613.21,466.51 L614.33,466.30 L615.44,466.09 L616.55,465.88 L617.67,465.66 L618.78,465.45 L619.90,465.24 L621.01,465.03 L622.12,464.81 L623.24,464.59 L624.35,464.36 L625.47,464.13 L626.58,463.88 L627.69,463.61 L628.81,463.33 L629.92,463.02 L631.03,462.69 L632.15,462.31 L633.26,461.90 L634.38,461.46 L635.49,460.99 L636.60,460.51 L637.72,460.02 L638.83,459.52 L639.95,459.02 L641.06,458.53 L642.17,458.02 L643.29,457.50 L644.40,456.97 L645.52,456.42 L646.63,455.85 L647.74,455.26 L648.86,454.65 L649.97,454.02 L651.08,453.34 L652.20,452.63 L653.31,451.88 L654.43,451.10 L655.54,450.30 L656.65,449.48 L657.77,448.65 L658.88,447.82 L660.00,447.00 L661.11,446.18 L662.22,445.36 L663.34,444.52 L664.45,443.68 L665.57,442.83 L666.68,441.96 L667.79,441.08 L668.91,440.19 L670.02,439.28 L671.14,438.35 L672.25,437.40 L673.36,436.42 L674.48,435.43 L675.59,434.44 L676.70,433.44 L677.82,432.43 L678.93,431.44 L680.05,430.46 L681.16,429.48 L682.27,428.51 L683.39,427.53 L684.50,426.55 L685.62,425.58 L686.73,424.61 L687.84,423.65 L688.96,422.69 L690.07,421.74 L691.19,420.80 L692.30,419.87 L693.41,418.95 L694.53,418.03 L695.64,417.11 L696.75,416.19 L697.87,415.28 L698.98,414.35 L700.10,413.42 L701.21,412.47 L702.32,411.50 L703.44,410.53 L704.55,409.55 L705.67,408.58 L706.78,407.62 L707.89,406.69 L709.01,405.78 L710.12,404.91 L711.24,404.06 L712.35,403.24 L713.46,402.43 L714.58,401.64 L715.69,400.87 L716.81,400.11 L717.92,399.36 L719.03,398.63 L720.15,397.91 L721.26,397.18 L722.37,396.46 L723.49,395.74 L724.60,395.04 L725.72,394.35 L726.83,393.69 L727.94,393.06 L729.06,392.47 L730.17,391.92 L731.29,391.40 L732.40,390.90 L733.51,390.43 L734.63,389.98 L735.74,389.54 L736.86,389.12 L737.97,388.71 L739.08,388.32 L740.20,387.93 L741.31,387.55 L742.42,387.18 L743.54,386.81 L744.65,386.46 L745.77,386.12 L746.88,385.80 L747.99,385.49 L749.11,385.21 L750.22,384.95 L751.34,384.70 L752.45,384.47 L753.56,384.24 L754.68,384.02 L755.79,383.82 L756.91,383.63 L758.02,383.46 L759.13,383.30 L760.25,383.17 L761.36,383.05 L762.47,382.93 L763.59,382.81 L764.70,382.70 L765.82,382.60 L766.93,382.51 L768.04,382.42 L769.16,382.35 L770.27,382.28 L771.39,382.23 L772.50,382.20" stroke="#a2142f" stroke-width="2.1" stroke-dasharray="5.6 2.7"/>
<path d="M484.00,381.60 L485.11,381.60 L486.23,381.60 L487.34,381.60 L488.46,381.60 L489.57,381.59 L490.68,381.59 L491.80,381.59 L492.91,381.58 L494.03,381.58 L495.14,381.57 L496.25,381.57 L497.37,381.56 L498.48,381.56 L499.59,381.55 L500.71,381.54 L501.82,381.54 L502.94,381.53 L504.05,381.52 L505.16,381.51 L506.28,381.51 L507.39,381.50 L508.51,381.49 L509.62,381.48 L510.73,381.47 L511.85,381.46 L512.96,381.45 L514.08,381.44 L515.19,381.43 L516.30,381.42 L517.42,381.41 L518.53,381.39 L519.64,381.38 L520.76,381.37 L521.87,381.35 L522.99,381.33 L524.10,381.31 L525.21,381.29 L526.33,381.26 L527.44,381.24 L528.56,381.21 L529.67,381.18 L530.78,381.15 L531.90,381.11 L533.01,381.08 L534.13,381.04 L535.24,381.00 L536.35,380.96 L537.47,380.92 L538.58,380.87 L539.69,380.81 L540.81,380.74 L541.92,380.66 L543.04,380.56 L544.15,380.47 L545.26,380.37 L546.38,380.27 L547.49,380.18 L548.61,380.09 L549.72,380.02 L550.83,379.95 L551.95,379.90 L553.06,379.84 L554.18,379.79 L555.29,379.74 L556.40,379.69 L557.52,379.63 L558.63,379.56 L559.75,379.48 L560.86,379.40 L561.97,379.30 L563.09,379.21 L564.20,379.11 L565.31,379.01 L566.43,378.91 L567.54,378.81 L568.66,378.71 L569.77,378.62 L570.88,378.53 L572.00,378.45 L573.11,378.37 L574.23,378.29 L575.34,378.21 L576.45,378.13 L577.57,378.04 L578.68,377.94 L579.80,377.84 L580.91,377.73 L582.02,377.62 L583.14,377.50 L584.25,377.38 L585.36,377.26 L586.48,377.13 L587.59,377.00 L588.71,376.86 L589.82,376.72 L590.93,376.58 L592.05,376.42 L593.16,376.26 L594.28,376.09 L595.39,375.92 L596.50,375.74 L597.62,375.56 L598.73,375.38 L599.85,375.19 L600.96,375.01 L602.07,374.81 L603.19,374.62 L604.30,374.42 L605.42,374.21 L606.53,374.00 L607.64,373.78 L608.76,373.56 L609.87,373.33 L610.98,373.09 L612.10,372.83 L613.21,372.57 L614.33,372.29 L615.44,372.01 L616.55,371.72 L617.67,371.43 L618.78,371.13 L619.90,370.83 L621.01,370.52 L622.12,370.20 L623.24,369.88 L624.35,369.54 L625.47,369.20 L626.58,368.86 L627.69,368.52 L628.81,368.17 L629.92,367.82 L631.03,367.48 L632.15,367.12 L633.26,366.76 L634.38,366.39 L635.49,366.03 L636.60,365.66 L637.72,365.31 L638.83,364.96 L639.95,364.62 L641.06,364.28 L642.17,363.95 L643.29,363.63 L644.40,363.31 L645.52,362.99 L646.63,362.68 L647.74,362.38 L648.86,362.09 L649.97,361.81 L651.08,361.53 L652.20,361.27 L653.31,361.01 L654.43,360.75 L655.54,360.50 L656.65,360.26 L657.77,360.03 L658.88,359.81 L660.00,359.60 L661.11,359.40 L662.22,359.21 L663.34,359.02 L664.45,358.84 L665.57,358.67 L666.68,358.50 L667.79,358.33 L668.91,358.16 L670.02,358.00 L671.14,357.83 L672.25,357.65 L673.36,357.47 L674.48,357.30 L675.59,357.13 L676.70,356.97 L677.82,356.83 L678.93,356.70 L680.05,356.60 L681.16,356.50 L682.27,356.41 L683.39,356.32 L684.50,356.23 L685.62,356.15 L686.73,356.09 L687.84,356.04 L688.96,356.01 L690.07,356.00 L691.19,356.02 L692.30,356.08 L693.41,356.16 L694.53,356.27 L695.64,356.40 L696.75,356.54 L697.87,356.70 L698.98,356.86 L700.10,357.01 L701.21,357.19 L702.32,357.41 L703.44,357.65 L704.55,357.92 L705.67,358.21 L706.78,358.51 L707.89,358.81 L709.01,359.13 L710.12,359.43 L711.24,359.75 L712.35,360.08 L713.46,360.42 L714.58,360.77 L715.69,361.13 L716.81,361.51 L717.92,361.88 L719.03,362.26 L720.15,362.65 L721.26,363.05 L722.37,363.46 L723.49,363.89 L724.60,364.32 L725.72,364.75 L726.83,365.19 L727.94,365.62 L729.06,366.05 L730.17,366.46 L731.29,366.88 L732.40,367.29 L733.51,367.70 L734.63,368.10 L735.74,368.51 L736.86,368.91 L737.97,369.30 L739.08,369.69 L740.20,370.07 L741.31,370.44 L742.42,370.81 L743.54,371.18 L744.65,371.54 L745.77,371.89 L746.88,372.25 L747.99,372.59 L749.11,372.93 L750.22,373.27 L751.34,373.60 L752.45,373.93 L753.56,374.27 L754.68,374.59 L755.79,374.91 L756.91,375.22 L758.02,375.52 L759.13,375.80 L760.25,376.06 L761.36,376.31 L762.47,376.55 L763.59,376.79 L764.70,377.03 L765.82,377.25 L766.93,377.47 L768.04,377.67 L769.16,377.87 L770.27,378.06 L771.39,378.23 L772.50,378.40" stroke="#a2142f" stroke-width="2.0"/>
</g>
<g fill="none" stroke="#2a2a2a" stroke-width="0.65">
<circle cx="561.3" cy="380" r="4.05"/>
<circle cx="585.3" cy="377.6" r="4.05"/>
<circle cx="609.3" cy="373.4" r="4.05"/>
<circle cx="633.4" cy="365" r="4.05"/>
<circle cx="657.4" cy="352" r="4.05"/>
<circle cx="681.2" cy="338" r="4.05"/>
<circle cx="705.4" cy="338.4" r="4.05"/>
<circle cx="729.4" cy="358.4" r="4.05"/>
<rect x="556.70" y="511.30" width="8.6" height="8.6"/>
<rect x="580.70" y="510.10" width="8.6" height="8.6"/>
<rect x="604.90" y="507.10" width="8.6" height="8.6"/>
<rect x="629.20" y="500.70" width="8.6" height="8.6"/>
<rect x="653.10" y="485.70" width="8.6" height="8.6"/>
<rect x="677.10" y="456.30" width="8.6" height="8.6"/>
<rect x="701.30" y="413.70" width="8.6" height="8.6"/>
<rect x="725.10" y="385.30" width="8.6" height="8.6"/>
</g>
<g fill="#2a2a2a" stroke="none" opacity="0.6">
<rect x="560.60" y="515.20" width="0.8" height="0.8"/>
<rect x="584.60" y="514.00" width="0.8" height="0.8"/>
<rect x="608.80" y="511.00" width="0.8" height="0.8"/>
<rect x="633.10" y="504.60" width="0.8" height="0.8"/>
<rect x="657.00" y="489.60" width="0.8" height="0.8"/>
<rect x="681.00" y="460.20" width="0.8" height="0.8"/>
<rect x="705.20" y="417.60" width="0.8" height="0.8"/>
<rect x="729.00" y="389.20" width="0.8" height="0.8"/>
<rect x="560.90" y="379.60" width="0.8" height="0.8"/>
<rect x="584.90" y="377.20" width="0.8" height="0.8"/>
<rect x="608.90" y="373.00" width="0.8" height="0.8"/>
<rect x="633.00" y="364.60" width="0.8" height="0.8"/>
<rect x="657.00" y="351.60" width="0.8" height="0.8"/>
<rect x="680.80" y="337.60" width="0.8" height="0.8"/>
<rect x="705.00" y="338.00" width="0.8" height="0.8"/>
<rect x="729.00" y="358.00" width="0.8" height="0.8"/>
</g>
<g clip-path="url(#c4)" fill="none" stroke-linejoin="round">
<path d="M484.00,531.00 L485.11,531.00 L486.23,531.00 L487.34,531.00 L488.46,531.00 L489.57,530.99 L490.68,530.99 L491.80,530.99 L492.91,530.99 L494.03,530.98 L495.14,530.98 L496.25,530.98 L497.37,530.97 L498.48,530.97 L499.59,530.96 L500.71,530.96 L501.82,530.95 L502.94,530.94 L504.05,530.94 L505.16,530.93 L506.28,530.92 L507.39,530.92 L508.51,530.91 L509.62,530.90 L510.73,530.89 L511.85,530.88 L512.96,530.87 L514.08,530.86 L515.19,530.85 L516.30,530.84 L517.42,530.83 L518.53,530.82 L519.64,530.81 L520.76,530.80 L521.87,530.79 L522.99,530.78 L524.10,530.77 L525.21,530.75 L526.33,530.74 L527.44,530.73 L528.56,530.72 L529.67,530.70 L530.78,530.69 L531.90,530.68 L533.01,530.66 L534.13,530.65 L535.24,530.64 L536.35,530.62 L537.47,530.61 L538.58,530.59 L539.69,530.57 L540.81,530.55 L541.92,530.52 L543.04,530.49 L544.15,530.45 L545.26,530.42 L546.38,530.38 L547.49,530.34 L548.61,530.29 L549.72,530.25 L550.83,530.21 L551.95,530.17 L553.06,530.14 L554.18,530.10 L555.29,530.07 L556.40,530.04 L557.52,530.01 L558.63,529.99 L559.75,529.97 L560.86,529.95 L561.97,529.93 L563.09,529.92 L564.20,529.91 L565.31,529.89 L566.43,529.88 L567.54,529.87 L568.66,529.86 L569.77,529.84 L570.88,529.83 L572.00,529.82 L573.11,529.80 L574.23,529.78 L575.34,529.76 L576.45,529.74 L577.57,529.71 L578.68,529.68 L579.80,529.64 L580.91,529.58 L582.02,529.52 L583.14,529.44 L584.25,529.35 L585.36,529.26 L586.48,529.15 L587.59,529.04 L588.71,528.93 L589.82,528.80 L590.93,528.68 L592.05,528.54 L593.16,528.41 L594.28,528.27 L595.39,528.13 L596.50,527.99 L597.62,527.85 L598.73,527.70 L599.85,527.55 L600.96,527.39 L602.07,527.21 L603.19,527.03 L604.30,526.84 L605.42,526.64 L606.53,526.43 L607.64,526.22 L608.76,526.00 L609.87,525.77 L610.98,525.54 L612.10,525.30 L613.21,525.06 L614.33,524.82 L615.44,524.57 L616.55,524.32 L617.67,524.07 L618.78,523.82 L619.90,523.57 L621.01,523.31 L622.12,523.05 L623.24,522.77 L624.35,522.49 L625.47,522.19 L626.58,521.88 L627.69,521.55 L628.81,521.20 L629.92,520.83 L631.03,520.42 L632.15,519.97 L633.26,519.47 L634.38,518.94 L635.49,518.39 L636.60,517.81 L637.72,517.22 L638.83,516.63 L639.95,516.03 L641.06,515.43 L642.17,514.82 L643.29,514.19 L644.40,513.55 L645.52,512.89 L646.63,512.21 L647.74,511.51 L648.86,510.78 L649.97,510.02 L651.08,509.23 L652.20,508.41 L653.31,507.55 L654.43,506.67 L655.54,505.75 L656.65,504.80 L657.77,503.83 L658.88,502.83 L660.00,501.80 L661.11,500.74 L662.22,499.64 L663.34,498.50 L664.45,497.33 L665.57,496.12 L666.68,494.87 L667.79,493.60 L668.91,492.30 L670.02,490.97 L671.14,489.62 L672.25,488.22 L673.36,486.77 L674.48,485.29 L675.59,483.76 L676.70,482.18 L677.82,480.57 L678.93,478.89 L680.05,477.12 L681.16,475.29 L682.27,473.42 L683.39,471.54 L684.50,469.65 L685.62,467.74 L686.73,465.80 L687.84,463.84 L688.96,461.86 L690.07,459.87 L691.19,457.85 L692.30,455.80 L693.41,453.73 L694.53,451.68 L695.64,449.65 L696.75,447.66 L697.87,445.69 L698.98,443.75 L700.10,441.81 L701.21,439.88 L702.32,437.93 L703.44,435.97 L704.55,434.01 L705.67,432.05 L706.78,430.10 L707.89,428.18 L709.01,426.28 L710.12,424.39 L711.24,422.51 L712.35,420.66 L713.46,418.85 L714.58,417.09 L715.69,415.35 L716.81,413.63 L717.92,411.96 L719.03,410.35 L720.15,408.80 L721.26,407.29 L722.37,405.82 L723.49,404.41 L724.60,403.06 L725.72,401.80 L726.83,400.64 L727.94,399.54 L729.06,398.50 L730.17,397.51 L731.29,396.57 L732.40,395.69 L733.51,394.82 L734.63,393.99 L735.74,393.19 L736.86,392.42 L737.97,391.70 L739.08,391.02 L740.20,390.39 L741.31,389.79 L742.42,389.20 L743.54,388.62 L744.65,388.08 L745.77,387.56 L746.88,387.08 L747.99,386.65 L749.11,386.27 L750.22,385.94 L751.34,385.64 L752.45,385.36 L753.56,385.11 L754.68,384.86 L755.79,384.64 L756.91,384.44 L758.02,384.27 L759.13,384.11 L760.25,383.97 L761.36,383.84 L762.47,383.72 L763.59,383.60 L764.70,383.48 L765.82,383.38 L766.93,383.28 L768.04,383.20 L769.16,383.12 L770.27,383.07 L771.39,383.02 L772.50,383.00" stroke="#000" stroke-width="3.1" stroke-dasharray="5.8 2.5"/>
<path d="M484.00,381.60 L485.11,381.60 L486.23,381.60 L487.34,381.60 L488.46,381.60 L489.57,381.59 L490.68,381.59 L491.80,381.59 L492.91,381.58 L494.03,381.58 L495.14,381.57 L496.25,381.57 L497.37,381.56 L498.48,381.56 L499.59,381.55 L500.71,381.54 L501.82,381.54 L502.94,381.53 L504.05,381.52 L505.16,381.51 L506.28,381.51 L507.39,381.50 L508.51,381.49 L509.62,381.48 L510.73,381.47 L511.85,381.46 L512.96,381.45 L514.08,381.44 L515.19,381.43 L516.30,381.42 L517.42,381.41 L518.53,381.39 L519.64,381.38 L520.76,381.37 L521.87,381.35 L522.99,381.33 L524.10,381.31 L525.21,381.29 L526.33,381.26 L527.44,381.24 L528.56,381.21 L529.67,381.18 L530.78,381.15 L531.90,381.11 L533.01,381.08 L534.13,381.04 L535.24,381.00 L536.35,380.96 L537.47,380.92 L538.58,380.88 L539.69,380.82 L540.81,380.74 L541.92,380.66 L543.04,380.57 L544.15,380.48 L545.26,380.38 L546.38,380.29 L547.49,380.19 L548.61,380.10 L549.72,380.02 L550.83,379.94 L551.95,379.88 L553.06,379.81 L554.18,379.74 L555.29,379.68 L556.40,379.61 L557.52,379.53 L558.63,379.45 L559.75,379.37 L560.86,379.28 L561.97,379.19 L563.09,379.10 L564.20,379.00 L565.31,378.91 L566.43,378.81 L567.54,378.71 L568.66,378.62 L569.77,378.52 L570.88,378.43 L572.00,378.33 L573.11,378.24 L574.23,378.14 L575.34,378.05 L576.45,377.95 L577.57,377.84 L578.68,377.73 L579.80,377.62 L580.91,377.50 L582.02,377.38 L583.14,377.26 L584.25,377.14 L585.36,377.00 L586.48,376.87 L587.59,376.73 L588.71,376.58 L589.82,376.43 L590.93,376.26 L592.05,376.08 L593.16,375.89 L594.28,375.69 L595.39,375.49 L596.50,375.28 L597.62,375.07 L598.73,374.86 L599.85,374.66 L600.96,374.45 L602.07,374.25 L603.19,374.04 L604.30,373.83 L605.42,373.60 L606.53,373.38 L607.64,373.14 L608.76,372.89 L609.87,372.63 L610.98,372.35 L612.10,372.05 L613.21,371.74 L614.33,371.40 L615.44,371.06 L616.55,370.71 L617.67,370.35 L618.78,369.99 L619.90,369.63 L621.01,369.28 L622.12,368.92 L623.24,368.56 L624.35,368.20 L625.47,367.82 L626.58,367.44 L627.69,367.05 L628.81,366.65 L629.92,366.23 L631.03,365.80 L632.15,365.34 L633.26,364.88 L634.38,364.40 L635.49,363.90 L636.60,363.40 L637.72,362.88 L638.83,362.36 L639.95,361.83 L641.06,361.28 L642.17,360.73 L643.29,360.15 L644.40,359.57 L645.52,358.98 L646.63,358.37 L647.74,357.76 L648.86,357.14 L649.97,356.52 L651.08,355.88 L652.20,355.23 L653.31,354.57 L654.43,353.90 L655.54,353.22 L656.65,352.54 L657.77,351.85 L658.88,351.17 L660.00,350.50 L661.11,349.83 L662.22,349.17 L663.34,348.50 L664.45,347.83 L665.57,347.17 L666.68,346.50 L667.79,345.83 L668.91,345.16 L670.02,344.49 L671.14,343.80 L672.25,343.10 L673.36,342.38 L674.48,341.67 L675.59,340.96 L676.70,340.27 L677.82,339.60 L678.93,338.97 L680.05,338.38 L681.16,337.80 L682.27,337.21 L683.39,336.64 L684.50,336.08 L685.62,335.55 L686.73,335.06 L687.84,334.63 L688.96,334.27 L690.07,333.98 L691.19,333.74 L692.30,333.50 L693.41,333.28 L694.53,333.09 L695.64,332.94 L696.75,332.84 L697.87,332.80 L698.98,332.83 L700.10,332.91 L701.21,333.05 L702.32,333.22 L703.44,333.44 L704.55,333.67 L705.67,333.92 L706.78,334.21 L707.89,334.62 L709.01,335.12 L710.12,335.70 L711.24,336.33 L712.35,337.00 L713.46,337.68 L714.58,338.36 L715.69,339.09 L716.81,339.89 L717.92,340.73 L719.03,341.60 L720.15,342.50 L721.26,343.40 L722.37,344.30 L723.49,345.24 L724.60,346.20 L725.72,347.18 L726.83,348.18 L727.94,349.17 L729.06,350.17 L730.17,351.15 L731.29,352.14 L732.40,353.13 L733.51,354.13 L734.63,355.12 L735.74,356.10 L736.86,357.05 L737.97,357.98 L739.08,358.87 L740.20,359.74 L741.31,360.60 L742.42,361.44 L743.54,362.26 L744.65,363.06 L745.77,363.84 L746.88,364.60 L747.99,365.35 L749.11,366.08 L750.22,366.80 L751.34,367.49 L752.45,368.15 L753.56,368.77 L754.68,369.35 L755.79,369.91 L756.91,370.44 L758.02,370.95 L759.13,371.44 L760.25,371.91 L761.36,372.35 L762.47,372.78 L763.59,373.19 L764.70,373.60 L765.82,373.99 L766.93,374.36 L768.04,374.72 L769.16,375.07 L770.27,375.40 L771.39,375.71 L772.50,376.00" stroke="#000" stroke-width="3.25"/>
</g>
<g fill="none" stroke="#141414" stroke-width="1">
<rect x="484" y="332.5" width="288.5" height="247.5"/>
<path d="M580.2,580 V575.5 M580.2,332.5 V337.0"/>
<path d="M676.3,580 V575.5 M676.3,332.5 V337.0"/>
<path d="M484,382 H488.5 M772.5,382 H768.0"/>
<path d="M484,431.5 H488.5 M772.5,431.5 H768.0"/>
<path d="M484,481 H488.5 M772.5,481 H768.0"/>
<path d="M484,530.5 H488.5 M772.5,530.5 H768.0"/>
</g>
</svg>
</body></html>
